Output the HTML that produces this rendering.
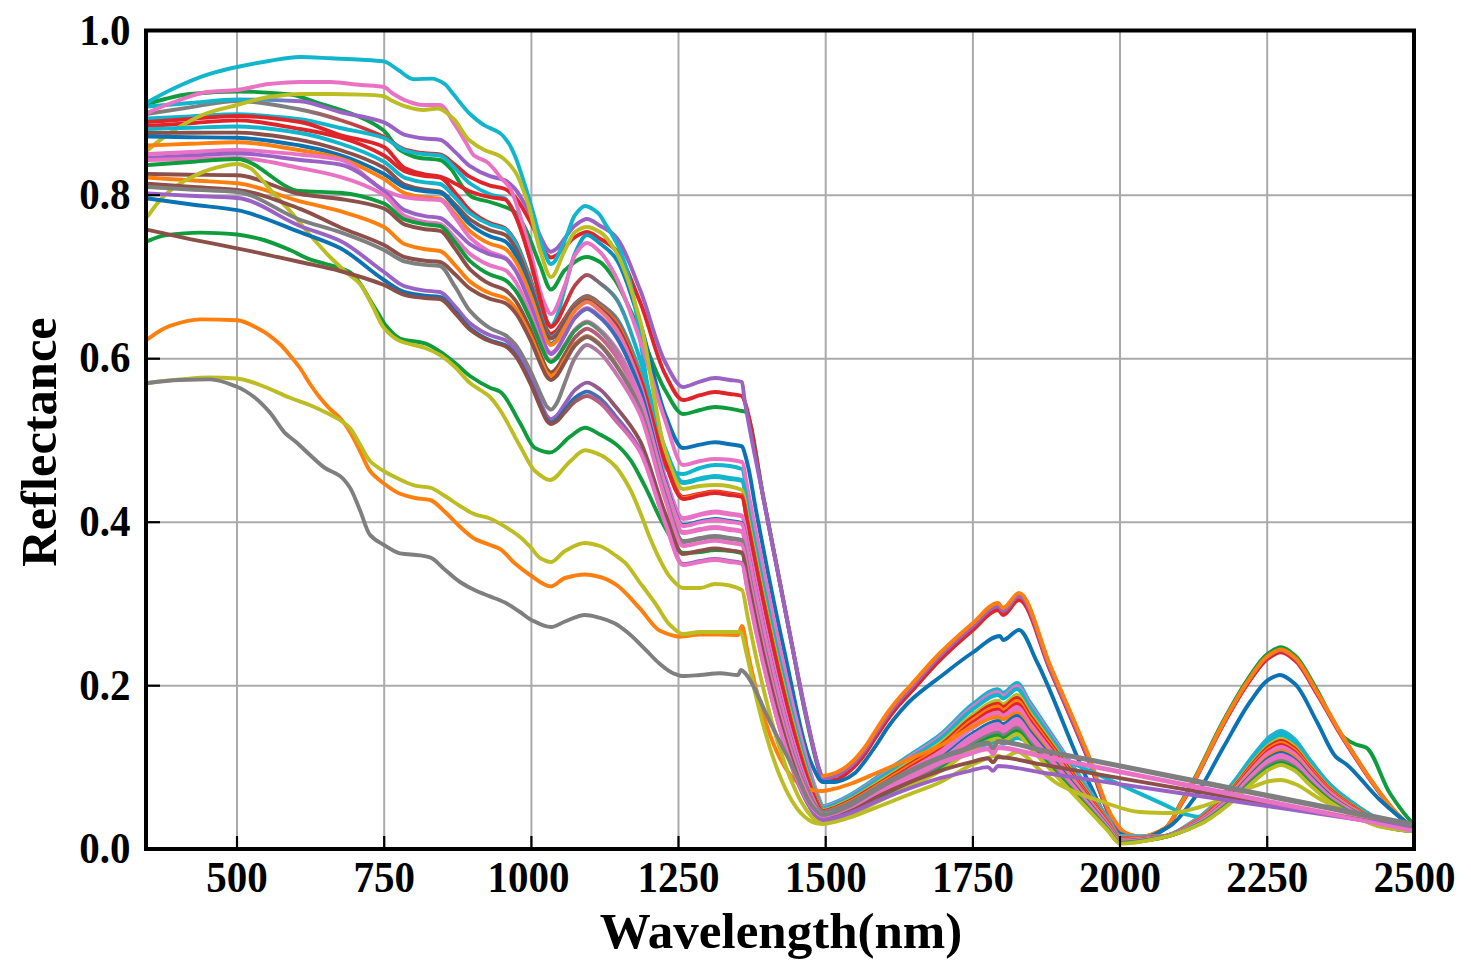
<!DOCTYPE html>
<html><head><meta charset="utf-8"><style>
html,body{margin:0;padding:0;background:#fff;}
body{width:1471px;height:975px;overflow:hidden;font-family:"Liberation Serif",serif;}
svg{display:block;}
</style></head><body>
<svg width="1471" height="975" viewBox="0 0 1471 975">
<defs><linearGradient id="g1" gradientUnits="userSpaceOnUse" x1="300" y1="0" x2="380" y2="0"><stop offset="0" stop-color="#7f7f7f"/><stop offset="1" stop-color="#e0252a"/></linearGradient><linearGradient id="g2" gradientUnits="userSpaceOnUse" x1="240" y1="0" x2="300" y2="0"><stop offset="0" stop-color="#11b5cc"/><stop offset="1" stop-color="#9a62c4"/></linearGradient><linearGradient id="g4" gradientUnits="userSpaceOnUse" x1="560" y1="0" x2="640" y2="0"><stop offset="0" stop-color="#11b5cc"/><stop offset="1" stop-color="#0b72b4"/></linearGradient><linearGradient id="g7" gradientUnits="userSpaceOnUse" x1="560" y1="0" x2="640" y2="0"><stop offset="0" stop-color="#e0252a"/><stop offset="1" stop-color="#11b5cc"/></linearGradient><linearGradient id="g8" gradientUnits="userSpaceOnUse" x1="560" y1="0" x2="640" y2="0"><stop offset="0" stop-color="#e0252a"/><stop offset="1" stop-color="#11b5cc"/></linearGradient><linearGradient id="g10" gradientUnits="userSpaceOnUse" x1="560" y1="0" x2="640" y2="0"><stop offset="0" stop-color="#11b5cc"/><stop offset="1" stop-color="#e0252a"/></linearGradient><linearGradient id="g11" gradientUnits="userSpaceOnUse" x1="560" y1="0" x2="640" y2="0"><stop offset="0" stop-color="#8c5048"/><stop offset="1" stop-color="#ff7f0e"/></linearGradient><linearGradient id="g12" gradientUnits="userSpaceOnUse" x1="560" y1="0" x2="640" y2="0"><stop offset="0" stop-color="#0b72b4"/><stop offset="1" stop-color="#e0252a"/></linearGradient><linearGradient id="g13" gradientUnits="userSpaceOnUse" x1="560" y1="0" x2="640" y2="0"><stop offset="0" stop-color="#ff7f0e"/><stop offset="1" stop-color="#ea72c4"/></linearGradient><linearGradient id="g16" gradientUnits="userSpaceOnUse" x1="560" y1="0" x2="640" y2="0"><stop offset="0" stop-color="#9a62c4"/><stop offset="1" stop-color="#0b72b4"/></linearGradient><linearGradient id="g18" gradientUnits="userSpaceOnUse" x1="560" y1="0" x2="640" y2="0"><stop offset="0" stop-color="#0e9c3c"/><stop offset="1" stop-color="#ea72c4"/></linearGradient><linearGradient id="g19" gradientUnits="userSpaceOnUse" x1="560" y1="0" x2="640" y2="0"><stop offset="0" stop-color="#8c5048"/><stop offset="1" stop-color="#ea72c4"/></linearGradient><linearGradient id="g20" gradientUnits="userSpaceOnUse" x1="560" y1="0" x2="640" y2="0"><stop offset="0" stop-color="#ff7f0e"/><stop offset="1" stop-color="#7f7f7f"/></linearGradient><linearGradient id="g24" gradientUnits="userSpaceOnUse" x1="560" y1="0" x2="640" y2="0"><stop offset="0" stop-color="#8c5048"/><stop offset="1" stop-color="#7f7f7f"/></linearGradient><linearGradient id="g25" gradientUnits="userSpaceOnUse" x1="560" y1="0" x2="640" y2="0"><stop offset="0" stop-color="#7f7f7f"/><stop offset="1" stop-color="#ea72c4"/></linearGradient><linearGradient id="g26" gradientUnits="userSpaceOnUse" x1="560" y1="0" x2="640" y2="0"><stop offset="0" stop-color="#9a62c4"/><stop offset="1" stop-color="#8c5048"/></linearGradient><linearGradient id="g27" gradientUnits="userSpaceOnUse" x1="560" y1="0" x2="640" y2="0"><stop offset="0" stop-color="#0b72b4"/><stop offset="1" stop-color="#9a62c4"/></linearGradient><linearGradient id="g28" gradientUnits="userSpaceOnUse" x1="560" y1="0" x2="640" y2="0"><stop offset="0" stop-color="#8c5048"/><stop offset="1" stop-color="#ea72c4"/></linearGradient></defs>
<rect width="1471" height="975" fill="#fff"/>
<g stroke="#aaaaaa" stroke-width="2"><line x1="237.0" y1="30.5" x2="237.0" y2="849.0"/><line x1="384.2" y1="30.5" x2="384.2" y2="849.0"/><line x1="531.4" y1="30.5" x2="531.4" y2="849.0"/><line x1="678.5" y1="30.5" x2="678.5" y2="849.0"/><line x1="825.7" y1="30.5" x2="825.7" y2="849.0"/><line x1="972.9" y1="30.5" x2="972.9" y2="849.0"/><line x1="1120.0" y1="30.5" x2="1120.0" y2="849.0"/><line x1="1267.2" y1="30.5" x2="1267.2" y2="849.0"/><line x1="146.0" y1="685.7" x2="1414.0" y2="685.7"/><line x1="146.0" y1="522.2" x2="1414.0" y2="522.2"/><line x1="146.0" y1="358.7" x2="1414.0" y2="358.7"/><line x1="146.0" y1="195.2" x2="1414.0" y2="195.2"/></g>
<g fill="none" stroke-width="3.9" stroke-linejoin="round" stroke-linecap="round"><path d="M148.0 104.0C153.7 102.1 159.3 100.4 165.0 99.0C173.3 97.0 181.7 94.7 190.0 94.0C205.7 92.6 221.3 91.5 237.0 91.5C254.3 91.5 271.7 92.6 289.0 94.3C298.3 95.2 307.7 99.7 317.0 102.6C330.8 106.9 344.7 110.6 358.5 116.5C366.8 120.0 375.1 123.9 383.4 130.3C388.9 134.6 394.5 146.6 400.0 150.0C406.7 154.1 413.3 156.9 420.0 158.0C426.7 159.1 433.3 158.7 440.0 160.0C443.7 160.7 447.3 165.1 451.0 169.0C454.7 172.9 458.3 181.3 462.0 186.0C465.3 190.3 468.7 195.4 472.0 197.0C478.0 199.8 484.0 200.2 490.0 202.0C495.0 203.5 500.0 205.0 505.0 207.0C508.3 208.4 511.7 209.5 515.0 212.0C518.3 214.5 521.7 221.6 525.0 228.0C530.0 237.6 535.0 253.3 540.0 265.0C543.7 273.6 547.3 289.5 551.0 289.5C555.7 289.5 560.3 274.0 565.0 270.0C572.3 263.7 579.7 257.0 587.0 257.0C591.3 257.0 595.7 259.5 600.0 262.0C605.0 264.9 610.0 272.6 615.0 280.0C623.3 292.4 631.7 313.7 640.0 332.0C648.3 350.3 656.7 376.1 665.0 390.0C671.0 400.0 677.0 414.0 683.0 414.0C688.7 414.0 694.3 411.2 700.0 410.0C705.0 408.9 710.0 407.0 715.0 407.0C724.0 407.0 733.0 409.3 742.0 411.0C743.2 411.2 744.3 411.4 745.5 411.8C751.6 414.0 757.7 469.7 763.8 500.0C772.9 545.1 781.9 593.4 791.0 640.0C795.7 664.0 800.3 690.5 805.0 712.0C809.9 734.5 814.8 758.8 819.7 773.0C820.8 776.2 821.9 781.0 823.0 781.0C827.0 781.0 831.0 777.8 835.0 776.0C837.7 774.8 840.3 773.6 843.0 772.0C846.7 769.8 850.3 766.5 854.0 763.0C857.7 759.5 861.3 754.9 865.0 750.0C868.7 745.1 872.3 738.6 876.0 733.0C880.0 726.9 884.0 720.5 888.0 715.0C891.7 710.0 895.3 705.3 899.0 701.0C902.7 696.7 906.3 693.0 910.0 689.0C919.7 678.4 929.3 666.7 939.0 657.0C950.3 645.7 961.7 635.6 973.0 626.0C981.3 618.9 989.7 606.0 998.0 606.0C999.7 606.0 1001.3 611.0 1003.0 611.0C1008.3 611.0 1013.7 596.0 1019.0 596.0C1029.3 596.0 1039.7 644.7 1050.0 669.0C1062.7 698.7 1075.3 727.0 1088.0 758.0C1096.0 777.6 1104.0 807.4 1112.0 819.0C1116.3 825.3 1120.7 831.1 1125.0 833.0C1130.0 835.2 1135.0 837.0 1140.0 837.0C1148.3 837.0 1156.7 833.4 1165.0 828.5C1170.7 825.2 1176.3 810.5 1182.0 800.8C1186.3 793.4 1190.7 785.7 1195.0 777.5C1204.3 760.0 1213.7 738.6 1223.0 721.5C1231.3 706.2 1239.7 691.0 1248.0 678.8C1254.3 669.6 1260.7 658.9 1267.0 654.4C1271.7 651.1 1276.3 647.3 1281.0 647.3C1285.7 647.3 1290.3 651.7 1295.0 655.5C1302.3 661.6 1309.7 677.8 1317.0 689.9C1326.0 704.8 1335.0 730.1 1344.0 737.5C1348.0 740.8 1352.0 742.9 1356.0 744.5C1359.3 745.8 1362.7 745.9 1366.0 747.5C1374.0 751.3 1382.0 781.2 1390.0 793.5C1398.0 805.8 1406.0 816.7 1414.0 824.5" stroke="#0e9c3c"/><path d="M148.0 113.8C162.0 111.6 176.0 109.4 190.0 107.4C205.7 105.1 221.3 101.0 237.0 101.0C258.0 101.0 279.0 105.7 300.0 109.5C313.3 111.9 326.7 115.8 340.0 120.0C354.7 124.6 369.3 129.9 384.0 137.0C391.0 140.4 398.0 147.6 405.0 149.6C411.7 151.5 418.3 152.5 425.0 153.3C430.0 153.8 435.0 153.8 440.0 154.5C445.0 155.2 450.0 161.1 455.0 164.8C460.0 168.6 465.0 174.1 470.0 176.9C476.7 180.7 483.3 183.6 490.0 185.6C495.0 187.0 500.0 187.1 505.0 189.0C508.3 190.2 511.7 193.7 515.0 197.2C520.0 202.5 525.0 212.2 530.0 221.2C534.3 229.0 538.7 239.9 543.0 247.9C544.3 250.4 545.7 253.5 547.0 254.8C548.3 256.1 549.7 257.5 551.0 257.5C552.7 257.5 554.3 256.4 556.0 255.5C559.0 253.8 562.0 249.7 565.0 246.8C568.3 243.6 571.7 239.1 575.0 237.1C579.0 234.7 583.0 232.0 587.0 232.0C591.3 232.0 595.7 236.2 600.0 238.7C605.0 241.7 610.0 244.1 615.0 249.2C623.3 257.5 631.7 281.5 640.0 301.8C648.3 322.0 656.7 358.1 665.0 373.9C671.0 385.3 677.0 400.0 683.0 400.0C688.7 400.0 694.3 396.6 700.0 395.2C705.0 394.0 710.0 392.0 715.0 392.0C720.0 392.0 725.0 393.3 730.0 394.0C734.0 394.6 738.0 394.5 742.0 396.0C742.2 396.1 742.4 396.4 742.7 396.8C749.7 408.4 756.8 464.7 763.8 500.0C772.9 545.4 781.9 594.1 791.0 640.0C795.7 663.6 800.3 688.8 805.0 710.0C809.9 732.2 814.8 756.8 819.7 771.0C820.8 774.2 821.9 778.8 823.0 779.0C827.0 779.8 831.0 780.0 835.0 780.0C837.7 780.0 840.3 777.6 843.0 776.0C846.7 773.8 850.3 770.5 854.0 767.0C857.7 763.5 861.3 758.9 865.0 754.0C868.7 749.1 872.3 742.6 876.0 737.0C880.0 730.9 884.0 724.5 888.0 719.0C891.7 714.0 895.3 709.3 899.0 705.0C902.7 700.7 906.3 697.0 910.0 693.0C919.7 682.4 929.3 670.7 939.0 661.0C950.3 649.7 961.7 639.6 973.0 630.0C981.3 622.9 989.7 610.0 998.0 610.0C999.7 610.0 1001.3 615.0 1003.0 615.0C1008.3 615.0 1013.7 600.0 1019.0 600.0C1029.3 600.0 1039.7 646.3 1050.0 670.0C1062.7 699.1 1075.3 728.0 1088.0 759.0C1096.0 778.6 1104.0 807.2 1112.0 820.0C1116.3 826.9 1120.7 834.1 1125.0 836.0C1130.0 838.2 1135.0 840.0 1140.0 840.0C1148.3 840.0 1156.7 834.7 1165.0 828.7C1170.7 824.7 1176.3 812.3 1182.0 803.0C1186.3 796.0 1190.7 788.1 1195.0 780.2C1204.3 762.9 1213.7 742.0 1223.0 725.2C1231.3 710.2 1239.7 695.3 1248.0 683.4C1254.3 674.3 1260.7 663.8 1267.0 659.3C1271.7 656.1 1276.3 652.4 1281.0 652.4C1285.7 652.4 1290.3 656.7 1295.0 660.5C1302.3 666.4 1309.7 682.4 1317.0 694.2C1326.0 708.7 1335.0 726.2 1344.0 740.2C1361.0 766.7 1378.0 793.3 1395.0 812.0C1401.3 819.0 1407.7 824.8 1414.0 830.1" stroke="url(#g1)"/><path d="M148.0 106.5C162.0 105.3 176.0 104.1 190.0 103.0C205.7 101.8 221.3 99.5 237.0 99.5C258.0 99.5 279.0 100.1 300.0 101.2C313.3 101.9 326.7 108.7 340.0 112.0C354.7 115.7 369.3 117.1 384.0 122.3C391.0 124.8 398.0 132.9 405.0 134.8C411.7 136.7 418.3 137.7 425.0 138.5C430.0 139.0 435.0 139.0 440.0 139.7C445.0 140.4 450.0 147.5 455.0 151.9C460.0 156.3 465.0 162.7 470.0 166.1C476.7 170.6 483.3 173.9 490.0 176.2C495.0 178.0 500.0 178.2 505.0 180.3C508.3 181.7 511.7 185.2 515.0 188.9C520.0 194.4 525.0 204.5 530.0 213.9C534.3 222.0 538.7 233.4 543.0 241.7C544.3 244.3 545.7 247.5 547.0 248.8C548.3 250.2 549.7 251.7 551.0 251.7C552.7 251.7 554.3 250.3 556.0 249.1C559.0 247.0 562.0 241.7 565.0 238.0C568.3 233.8 571.7 228.1 575.0 225.5C579.0 222.5 583.0 219.0 587.0 219.0C591.3 219.0 595.7 223.2 600.0 225.7C605.0 228.6 610.0 230.9 615.0 235.8C623.3 244.0 631.7 269.0 640.0 289.6C648.3 310.1 656.7 346.4 665.0 361.8C671.0 372.9 677.0 387.0 683.0 387.0C688.7 387.0 694.3 383.1 700.0 381.6C705.0 380.2 710.0 378.0 715.0 378.0C720.0 378.0 725.0 379.3 730.0 380.0C734.0 380.6 738.0 380.4 742.0 382.0C742.9 382.4 743.7 394.7 744.6 400.0C751.0 439.5 757.4 466.9 763.8 500.0C772.9 547.0 781.9 594.1 791.0 640.0C795.7 663.6 800.3 688.8 805.0 710.0C809.9 732.2 814.8 756.8 819.7 771.0C820.8 774.2 821.9 779.0 823.0 779.0C827.0 779.0 831.0 777.4 835.0 776.0C837.7 775.1 840.3 773.6 843.0 772.0C846.7 769.8 850.3 766.5 854.0 763.0C857.7 759.5 861.3 754.9 865.0 750.0C868.7 745.1 872.3 738.6 876.0 733.0C880.0 726.9 884.0 720.5 888.0 715.0C891.7 710.0 895.3 705.3 899.0 701.0C902.7 696.7 906.3 693.0 910.0 689.0C919.7 678.4 929.3 666.7 939.0 657.0C950.3 645.7 961.7 635.6 973.0 626.0C981.3 618.9 989.7 606.0 998.0 606.0C999.7 606.0 1001.3 611.0 1003.0 611.0C1008.3 611.0 1013.7 596.0 1019.0 596.0C1029.3 596.0 1039.7 643.9 1050.0 668.0C1062.7 697.5 1075.3 726.0 1088.0 757.0C1096.0 776.6 1104.0 805.2 1112.0 818.0C1116.3 824.9 1120.7 832.1 1125.0 834.0C1130.0 836.2 1135.0 838.0 1140.0 838.0C1148.3 838.0 1156.7 833.8 1165.0 828.6C1170.7 825.0 1176.3 811.9 1182.0 802.6C1186.3 795.4 1190.7 787.5 1195.0 779.4C1204.3 762.0 1213.7 740.8 1223.0 723.7C1231.3 708.5 1239.7 693.4 1248.0 681.4C1254.3 672.2 1260.7 661.5 1267.0 657.0C1271.7 653.7 1276.3 650.0 1281.0 650.0C1285.7 650.0 1290.3 654.3 1295.0 658.2C1302.3 664.2 1309.7 680.4 1317.0 692.4C1326.0 707.1 1335.0 724.7 1344.0 738.9C1361.0 765.7 1378.0 792.7 1395.0 811.7C1401.3 818.7 1407.7 824.7 1414.0 829.9" stroke="url(#g2)"/><path d="M823.0 776.0C827.0 775.6 831.0 774.4 835.0 773.0C837.7 772.1 840.3 770.6 843.0 769.0C846.7 766.8 850.3 763.5 854.0 760.0C857.7 756.5 861.3 751.9 865.0 747.0C868.7 742.1 872.3 735.6 876.0 730.0C880.0 723.9 884.0 717.5 888.0 712.0C891.7 707.0 895.3 702.3 899.0 698.0C902.7 693.7 906.3 690.0 910.0 686.0C919.7 675.4 929.3 663.7 939.0 654.0C950.3 642.7 961.7 632.6 973.0 623.0C981.3 615.9 989.7 603.0 998.0 603.0C999.7 603.0 1001.3 608.0 1003.0 608.0C1008.3 608.0 1013.7 593.0 1019.0 593.0C1029.3 593.0 1039.7 640.9 1050.0 665.0C1062.7 694.5 1075.3 722.6 1088.0 754.0C1096.0 773.8 1104.0 803.6 1112.0 816.5C1116.3 823.5 1120.7 830.6 1125.0 832.5C1130.0 834.7 1135.0 836.5 1140.0 836.5C1148.3 836.5 1156.7 832.9 1165.0 828.1C1170.7 824.8 1176.3 811.4 1182.0 802.1C1186.3 794.9 1190.7 787.0 1195.0 778.9C1204.3 761.5 1213.7 740.3 1223.0 723.2C1231.3 708.0 1239.7 692.9 1248.0 680.9C1254.3 671.7 1260.7 661.0 1267.0 656.5C1271.7 653.2 1276.3 649.5 1281.0 649.5C1285.7 649.5 1290.3 653.8 1295.0 657.7C1302.3 663.7 1309.7 679.9 1317.0 691.9C1326.0 706.6 1335.0 724.2 1344.0 738.4C1361.0 765.2 1378.0 792.2 1395.0 811.2C1401.3 818.2 1407.7 824.2 1414.0 829.4" stroke="#ff7f0e"/><path d="M148.0 118.5C162.0 117.8 176.0 117.1 190.0 116.4C205.7 115.7 221.3 114.3 237.0 114.3C258.0 114.3 279.0 116.7 300.0 119.2C313.3 120.8 326.7 125.0 340.0 128.0C354.7 131.3 369.3 132.9 384.0 138.0C391.0 140.4 398.0 148.6 405.0 150.6C411.7 152.5 418.3 153.5 425.0 154.3C430.0 154.8 435.0 154.8 440.0 155.5C445.0 156.2 450.0 163.8 455.0 168.4C460.0 173.1 465.0 180.0 470.0 183.5C476.7 188.3 483.3 191.8 490.0 194.3C495.0 196.1 500.0 196.1 505.0 198.6C508.3 200.3 511.7 207.3 515.0 213.9C520.0 223.8 525.0 241.7 530.0 258.5C534.3 273.0 538.7 293.3 543.0 308.2C544.3 312.7 545.7 318.5 547.0 320.9C548.3 323.3 549.7 326.0 551.0 326.0C552.7 326.0 554.3 322.0 556.0 318.7C559.0 312.8 562.0 298.1 565.0 287.8C568.3 276.3 571.7 260.3 575.0 253.2C579.0 244.7 583.0 235.0 587.0 235.0C591.3 235.0 595.7 240.2 600.0 243.5C605.0 247.3 610.0 250.7 615.0 257.2C623.3 268.0 631.7 297.1 640.0 322.4C648.3 347.8 656.7 393.3 665.0 413.8C671.0 428.6 677.0 448.0 683.0 448.0C688.7 448.0 694.3 445.6 700.0 444.6C705.0 443.7 710.0 442.3 715.0 442.3C720.0 442.3 725.0 443.6 730.0 444.3C734.0 444.9 738.0 444.8 742.0 446.3C743.0 446.7 744.0 451.1 745.0 454.3C746.2 458.0 747.3 463.0 748.5 468.3C751.0 479.7 753.5 497.0 756.0 510.3C765.0 558.3 774.0 604.2 783.0 645.0C792.7 688.8 802.3 744.6 812.0 765.0C815.7 772.7 819.3 782.0 823.0 782.0C827.0 782.0 831.0 782.0 835.0 782.0C837.7 782.0 840.3 780.9 843.0 780.0C847.0 778.6 851.0 776.2 855.0 773.0C858.3 770.4 861.7 765.3 865.0 761.0C869.0 755.8 873.0 749.9 877.0 744.0C880.7 738.6 884.3 732.1 888.0 727.0C891.7 721.9 895.3 717.3 899.0 713.0C902.7 708.7 906.3 704.5 910.0 701.0C920.0 691.5 930.0 684.7 940.0 677.0C950.7 668.7 961.3 660.1 972.0 653.0C981.3 646.8 990.7 636.0 1000.0 636.0C1001.0 636.0 1002.0 640.0 1003.0 640.0C1008.3 640.0 1013.7 630.0 1019.0 630.0C1025.0 630.0 1031.0 650.2 1037.0 662.0C1054.7 696.8 1072.3 750.7 1090.0 785.0C1099.3 803.1 1108.7 829.4 1118.0 833.0C1125.3 835.9 1132.7 838.0 1140.0 838.0C1150.0 838.0 1160.0 832.0 1170.0 826.0C1178.3 821.0 1186.7 808.6 1195.0 797.0C1204.3 784.0 1213.7 764.1 1223.0 748.0C1232.0 732.5 1241.0 714.7 1250.0 702.0C1256.0 693.6 1262.0 683.6 1268.0 680.0C1272.0 677.6 1276.0 675.0 1280.0 675.0C1285.0 675.0 1290.0 679.7 1295.0 684.0C1302.3 690.3 1309.7 708.9 1317.0 722.0C1323.3 733.3 1329.7 750.9 1336.0 757.0C1339.3 760.2 1342.7 761.3 1346.0 764.0C1357.3 773.2 1368.7 789.5 1380.0 800.0C1391.3 810.5 1402.7 820.0 1414.0 828.0" stroke="url(#g4)"/><path d="M148.0 102.0C157.6 96.5 167.2 91.4 176.8 87.0C187.0 82.3 197.3 77.8 207.5 74.6C217.3 71.5 227.2 69.1 237.0 67.0C247.7 64.7 258.3 62.6 269.0 61.0C279.3 59.4 289.5 57.0 299.8 57.0C310.1 57.0 320.3 57.8 330.6 58.3C340.9 58.8 351.1 59.2 361.4 59.8C368.9 60.2 376.3 60.4 383.8 61.4C388.6 62.1 393.5 67.1 398.3 70.0C403.4 73.1 408.6 79.2 413.7 79.2C419.9 79.2 426.0 78.6 432.2 78.6C436.3 78.6 440.4 81.2 444.5 83.8C447.6 85.8 450.6 91.0 453.7 94.6C458.8 100.7 463.9 108.1 469.0 113.0C474.2 118.0 479.3 122.2 484.5 125.4C489.6 128.5 494.7 129.3 499.8 133.0C502.9 135.2 505.9 139.1 509.0 143.8C511.0 146.8 513.0 151.3 515.0 156.0C518.2 163.5 521.3 173.9 524.5 183.8C527.6 193.4 530.6 203.9 533.7 214.6C536.8 225.4 539.9 240.7 543.0 248.5C545.7 255.2 548.3 264.0 551.0 264.0C555.7 264.0 560.3 249.6 565.0 240.0C568.3 233.1 571.7 219.4 575.0 215.0C578.3 210.6 581.7 206.0 585.0 206.0C589.3 206.0 593.7 209.4 598.0 213.0C600.7 215.2 603.3 220.7 606.0 225.0C610.7 232.5 615.3 239.1 620.0 250.0C624.0 259.4 628.0 272.8 632.0 290.0C636.3 308.7 640.7 344.1 645.0 370.0C649.0 393.9 653.0 425.2 657.0 440.0C660.7 453.6 664.3 468.1 668.0 470.0C673.0 472.5 678.0 474.0 683.0 474.0C688.7 474.0 694.3 469.4 700.0 468.0C705.0 466.7 710.0 465.0 715.0 465.0C724.0 465.0 733.0 465.7 742.0 469.0C743.8 469.7 745.7 486.3 747.5 495.4C749.2 503.8 750.9 512.8 752.6 521.4C754.2 530.0 755.9 538.5 757.6 546.9C759.3 555.3 760.9 563.6 762.6 571.9C764.3 580.1 766.0 588.3 767.7 596.3C769.3 604.3 771.0 612.3 772.7 620.1C774.4 628.0 776.0 635.7 777.7 643.3C779.4 651.0 781.1 658.5 782.8 665.9C784.4 673.3 786.1 680.5 787.8 687.7C789.5 694.8 791.1 701.8 792.8 708.6C794.5 715.5 796.2 722.2 797.8 728.7C799.5 735.2 801.2 741.6 802.9 747.7C804.6 753.9 806.2 759.9 807.9 765.5C809.6 771.2 811.3 776.7 812.9 781.8C814.6 786.8 816.3 792.0 818.0 795.9C819.6 799.8 821.3 806.0 823.0 806.0C827.0 806.0 831.0 803.8 835.0 802.3C840.0 800.4 845.0 797.7 850.0 794.9C860.0 789.4 870.0 781.9 880.0 775.2C889.7 768.8 899.3 762.1 909.0 755.6C919.3 748.6 929.7 742.7 940.0 734.7C951.0 726.1 962.0 711.8 973.0 703.9C981.3 697.9 989.7 689.1 998.0 689.1C999.7 689.1 1001.3 692.8 1003.0 692.8C1007.7 692.8 1012.3 683.0 1017.0 683.0C1021.1 683.0 1025.2 695.2 1029.4 701.4C1042.4 720.7 1055.5 740.1 1068.5 759.5C1081.5 778.9 1094.6 798.3 1107.6 817.6C1111.8 823.8 1115.9 835.9 1120.0 836.0C1133.3 836.4 1146.7 836.5 1160.0 836.5C1173.3 836.5 1186.7 825.5 1200.0 816.5C1210.0 809.7 1220.0 798.0 1230.0 786.5C1238.3 776.9 1246.7 763.2 1255.0 753.2C1260.0 747.2 1265.0 740.0 1270.0 736.5C1273.7 734.1 1277.3 731.0 1281.0 731.0C1285.0 731.0 1289.0 734.6 1293.0 737.7C1298.7 742.0 1304.3 752.7 1310.0 759.9C1316.7 768.3 1323.3 777.7 1330.0 784.3C1336.7 790.9 1343.3 796.1 1350.0 800.9C1360.0 808.2 1370.0 815.4 1380.0 819.8C1391.3 824.7 1402.7 829.1 1414.0 831.0" stroke="#11b5cc"/><path d="M148.0 112.6C157.7 108.3 167.3 104.3 177.0 101.0C187.0 97.6 197.0 93.1 207.0 92.0C217.0 90.9 227.0 91.0 237.0 90.0C247.7 89.0 258.3 85.0 269.0 84.0C279.3 83.0 289.7 82.0 300.0 82.0C310.0 82.0 320.0 82.0 330.0 82.0C340.3 82.0 350.7 84.1 361.0 85.0C368.7 85.7 376.3 85.6 384.0 87.0C386.7 87.5 389.3 91.3 392.0 93.0C397.0 96.2 402.0 99.3 407.0 101.0C412.3 102.8 417.7 105.0 423.0 105.0C428.7 105.0 434.3 105.0 440.0 105.0C445.0 105.0 450.0 117.7 455.0 125.0C458.3 129.9 461.7 135.6 465.0 141.0C468.0 145.8 471.0 153.1 474.0 155.5C478.3 158.9 482.7 159.0 487.0 162.0C489.3 163.6 491.7 166.4 494.0 169.0C496.3 171.6 498.7 175.2 501.0 178.0C504.0 181.6 507.0 183.3 510.0 188.0C511.7 190.6 513.3 195.5 515.0 200.0C520.0 213.6 525.0 232.1 530.0 250.0C534.3 265.5 538.7 289.9 543.0 300.0C545.7 306.2 548.3 314.0 551.0 314.0C555.7 314.0 560.3 296.6 565.0 285.0C568.3 276.7 571.7 260.1 575.0 255.0C579.0 248.9 583.0 243.0 587.0 243.0C591.3 243.0 595.7 247.9 600.0 252.0C605.0 256.7 610.0 265.6 615.0 275.0C623.3 290.7 631.7 316.1 640.0 340.0C648.3 363.9 656.7 396.8 665.0 420.0C671.0 436.7 677.0 465.0 683.0 465.0C688.7 465.0 694.3 462.0 700.0 461.0C705.0 460.2 710.0 459.0 715.0 459.0C724.0 459.0 733.0 459.5 742.0 462.0C743.8 462.5 745.7 479.3 747.5 488.5C749.2 496.8 750.9 505.9 752.6 514.5C754.2 523.1 755.9 531.7 757.6 540.1C759.3 548.6 760.9 557.0 762.6 565.3C764.3 573.6 766.0 581.8 767.7 589.9C769.3 598.1 771.0 606.1 772.7 614.1C774.4 622.0 776.0 629.9 777.7 637.6C779.4 645.4 781.1 653.1 782.8 660.6C784.4 668.1 786.1 675.6 787.8 682.9C789.5 690.2 791.1 697.4 792.8 704.4C794.5 711.5 796.2 718.4 797.8 725.1C799.5 731.9 801.2 738.5 802.9 744.9C804.6 751.3 806.2 757.5 807.9 763.5C809.6 769.4 811.3 775.3 812.9 780.6C814.6 786.0 816.3 791.5 818.0 795.8C819.6 800.1 821.3 807.0 823.0 807.0C827.0 807.0 831.0 804.8 835.0 803.4C840.0 801.5 845.0 798.8 850.0 796.1C860.0 790.7 870.0 783.3 880.0 776.8C889.7 770.4 899.3 763.8 909.0 757.4C919.3 750.5 929.7 744.8 940.0 736.8C951.0 728.4 962.0 714.3 973.0 706.6C981.3 700.7 989.7 692.0 998.0 692.0C999.7 692.0 1001.3 695.7 1003.0 695.7C1007.7 695.7 1012.3 686.0 1017.0 686.0C1021.1 686.0 1025.2 698.0 1029.4 704.1C1042.4 723.1 1055.5 742.2 1068.5 761.2C1081.5 780.3 1094.6 799.3 1107.6 818.4C1111.8 824.4 1115.9 836.4 1120.0 836.4C1133.3 836.5 1146.7 836.5 1160.0 836.5C1173.3 836.5 1186.7 825.8 1200.0 816.9C1210.0 810.3 1220.0 798.8 1230.0 787.5C1238.3 778.1 1246.7 764.6 1255.0 754.8C1260.0 748.9 1265.0 741.8 1270.0 738.5C1273.7 736.0 1277.3 733.0 1281.0 733.0C1285.0 733.0 1289.0 736.5 1293.0 739.5C1298.7 743.8 1304.3 754.3 1310.0 761.3C1316.7 769.6 1323.3 778.8 1330.0 785.3C1336.7 791.8 1343.3 796.9 1350.0 801.7C1360.0 808.8 1370.0 816.0 1380.0 820.2C1391.3 825.0 1402.7 829.2 1414.0 831.0" stroke="#ea72c4"/><path d="M148.0 122.0C162.0 120.9 176.0 119.9 190.0 119.0C205.7 117.9 221.3 116.0 237.0 116.0C258.0 116.0 279.0 118.8 300.0 122.0C313.3 124.0 326.7 131.0 340.0 135.0C354.7 139.4 369.3 140.2 384.0 147.0C391.0 150.2 398.0 165.0 405.0 168.3C411.7 171.5 418.3 173.3 425.0 174.5C430.0 175.5 435.0 175.5 440.0 176.6C445.0 177.7 450.0 181.0 455.0 183.5C460.0 185.9 465.0 189.6 470.0 191.5C476.7 194.0 483.3 195.9 490.0 197.2C495.0 198.2 500.0 198.0 505.0 199.5C508.3 200.5 511.7 208.2 515.0 214.8C520.0 224.7 525.0 242.6 530.0 259.4C534.3 274.0 538.7 294.3 543.0 309.1C544.3 313.7 545.7 319.5 547.0 321.9C548.3 324.3 549.7 327.0 551.0 327.0C552.7 327.0 554.3 324.7 556.0 322.8C559.0 319.5 562.0 311.1 565.0 305.2C568.3 298.6 571.7 289.5 575.0 285.4C579.0 280.5 583.0 275.0 587.0 275.0C591.3 275.0 595.7 280.0 600.0 283.3C605.0 287.0 610.0 290.6 615.0 297.0C623.3 307.7 631.7 334.7 640.0 359.0C648.3 383.3 656.7 427.3 665.0 447.7C671.0 462.3 677.0 482.0 683.0 482.0C688.7 482.0 694.3 479.4 700.0 478.4C705.0 477.5 710.0 476.0 715.0 476.0C720.0 476.0 725.0 477.3 730.0 478.0C734.0 478.6 738.0 478.5 742.0 480.0C743.8 480.7 745.7 497.3 747.5 506.4C749.2 514.7 750.9 523.8 752.6 532.3C754.2 540.8 755.9 549.3 757.6 557.6C759.3 566.0 760.9 574.2 762.6 582.4C764.3 590.5 766.0 598.6 767.7 606.5C769.3 614.5 771.0 622.3 772.7 630.0C774.4 637.7 776.0 645.3 777.7 652.8C779.4 660.3 781.1 667.7 782.8 674.9C784.4 682.1 786.1 689.2 787.8 696.1C789.5 703.0 791.1 709.8 792.8 716.4C794.5 723.0 796.2 729.5 797.8 735.8C799.5 742.0 801.2 748.1 802.9 754.0C804.6 759.8 806.2 765.5 807.9 770.8C809.6 776.2 811.3 781.4 812.9 786.1C814.6 790.7 816.3 795.6 818.0 799.1C819.6 802.6 821.3 808.0 823.0 808.0C827.0 808.0 831.0 805.9 835.0 804.4C840.0 802.6 845.0 800.0 850.0 797.3C860.0 791.9 870.0 784.7 880.0 778.2C889.7 772.0 899.3 765.5 909.0 759.2C919.3 752.4 929.7 746.8 940.0 739.0C951.0 730.7 962.0 716.8 973.0 709.2C981.3 703.5 989.7 695.0 998.0 695.0C999.7 695.0 1001.3 698.5 1003.0 698.5C1007.7 698.5 1012.3 689.0 1017.0 689.0C1021.1 689.0 1025.2 700.8 1029.4 706.7C1042.4 725.5 1055.5 744.2 1068.5 762.9C1081.5 781.7 1094.6 800.4 1107.6 819.1C1111.8 825.1 1115.9 836.9 1120.0 836.9C1133.3 836.9 1146.7 836.8 1160.0 836.6C1173.3 836.5 1186.7 826.1 1200.0 817.4C1210.0 810.9 1220.0 799.6 1230.0 788.5C1238.3 779.3 1246.7 766.1 1255.0 756.4C1260.0 750.6 1265.0 743.6 1270.0 740.4C1273.7 737.9 1277.3 735.0 1281.0 735.0C1285.0 735.0 1289.0 738.5 1293.0 741.4C1298.7 745.6 1304.3 755.9 1310.0 762.8C1316.7 770.9 1323.3 780.0 1330.0 786.4C1336.7 792.7 1343.3 797.8 1350.0 802.4C1360.0 809.4 1370.0 816.5 1380.0 820.6C1391.3 825.2 1402.7 829.3 1414.0 831.0" stroke="url(#g7)"/><path d="M148.0 126.0C162.0 125.0 176.0 124.1 190.0 123.2C205.7 122.2 221.3 120.4 237.0 120.4C258.0 120.4 279.0 125.5 300.0 129.0C313.3 131.2 326.7 133.7 340.0 137.4C354.7 141.5 369.3 147.4 384.0 155.5C391.0 159.4 398.0 168.9 405.0 171.3C411.7 173.7 418.3 175.0 425.0 176.0C430.0 176.7 435.0 176.6 440.0 177.5C445.0 178.4 450.0 187.2 455.0 192.7C460.0 198.1 465.0 206.2 470.0 210.4C476.7 216.0 483.3 220.1 490.0 223.0C495.0 225.2 500.0 225.3 505.0 228.1C508.3 229.9 511.7 235.3 515.0 240.8C520.0 249.0 525.0 263.9 530.0 277.9C534.3 290.0 538.7 306.9 543.0 319.2C544.3 323.0 545.7 327.7 547.0 329.8C548.3 331.8 549.7 334.0 551.0 334.0C552.7 334.0 554.3 332.3 556.0 331.0C559.0 328.5 562.0 322.4 565.0 318.0C568.3 313.2 571.7 306.6 575.0 303.6C579.0 300.0 583.0 296.0 587.0 296.0C591.3 296.0 595.7 300.5 600.0 303.5C605.0 306.9 610.0 310.4 615.0 316.3C623.3 326.1 631.7 349.3 640.0 371.0C648.3 392.7 656.7 432.3 665.0 451.0C671.0 464.5 677.0 483.0 683.0 483.0C688.7 483.0 694.3 480.4 700.0 479.4C705.0 478.5 710.0 477.0 715.0 477.0C720.0 477.0 725.0 478.3 730.0 479.0C734.0 479.6 738.0 479.5 742.0 481.0C743.8 481.7 745.7 498.3 747.5 507.4C749.2 515.7 750.9 524.8 752.6 533.3C754.2 541.8 755.9 550.3 757.6 558.6C759.3 567.0 760.9 575.2 762.6 583.4C764.3 591.5 766.0 599.6 767.7 607.5C769.3 615.5 771.0 623.3 772.7 631.0C774.4 638.7 776.0 646.3 777.7 653.8C779.4 661.3 781.1 668.7 782.8 675.9C784.4 683.1 786.1 690.2 787.8 697.1C789.5 704.0 791.1 710.8 792.8 717.4C794.5 724.0 796.2 730.5 797.8 736.8C799.5 743.0 801.2 749.1 802.9 755.0C804.6 760.8 806.2 766.5 807.9 771.8C809.6 777.2 811.3 782.4 812.9 787.1C814.6 791.7 816.3 796.6 818.0 800.1C819.6 803.6 821.3 809.0 823.0 809.0C827.0 809.0 831.0 807.7 835.0 806.9C840.0 805.8 845.0 804.2 850.0 802.6C860.0 799.4 870.0 795.1 880.0 791.2C889.7 787.5 899.3 783.7 909.0 779.9C919.3 775.9 929.7 772.5 940.0 767.8C951.0 762.9 962.0 754.6 973.0 750.1C981.3 746.6 989.7 741.5 998.0 741.5C999.7 741.5 1001.3 743.7 1003.0 743.7C1007.7 743.7 1012.3 738.0 1017.0 738.0C1023.7 738.0 1030.4 744.1 1037.2 747.1C1058.4 756.7 1079.7 766.4 1101.0 776.0C1122.3 785.6 1143.6 795.3 1164.8 804.9C1171.6 807.9 1178.3 812.2 1185.0 814.0C1190.0 815.3 1195.0 816.9 1200.0 816.9C1210.0 816.9 1220.0 798.8 1230.0 787.5C1238.3 778.1 1246.7 764.6 1255.0 754.8C1260.0 748.9 1265.0 741.8 1270.0 738.5C1273.7 736.0 1277.3 733.0 1281.0 733.0C1285.0 733.0 1289.0 736.5 1293.0 739.5C1298.7 743.8 1304.3 754.3 1310.0 761.3C1316.7 769.6 1323.3 778.8 1330.0 785.3C1336.7 791.8 1343.3 796.9 1350.0 801.7C1360.0 808.8 1370.0 816.0 1380.0 820.2C1391.3 825.0 1402.7 829.2 1414.0 831.0" stroke="url(#g8)"/><path d="M148.0 150.0C157.6 141.7 167.2 134.3 176.8 128.5C187.0 122.3 197.3 116.6 207.5 113.0C217.3 109.5 227.2 107.6 237.0 105.0C247.7 102.2 258.3 98.5 269.0 97.0C279.3 95.6 289.5 94.0 299.8 94.0C310.1 94.0 320.3 94.0 330.6 94.0C340.9 94.0 351.1 94.3 361.4 94.6C368.9 94.8 376.3 95.1 383.8 96.2C386.5 96.6 389.3 99.5 392.0 100.8C397.2 103.3 402.3 105.7 407.5 107.0C412.7 108.3 417.8 110.0 423.0 110.0C428.0 110.0 433.0 108.5 438.0 108.5C443.2 108.5 448.5 114.3 453.7 119.0C458.8 123.6 463.9 135.5 469.0 140.0C474.2 144.5 479.3 147.5 484.5 150.0C489.6 152.5 494.7 153.1 499.8 156.0C504.9 158.9 509.9 164.1 515.0 171.5C519.2 177.6 523.3 189.6 527.5 202.0C531.7 214.4 535.8 237.6 540.0 250.0C543.7 260.9 547.3 277.0 551.0 277.0C555.7 277.0 560.3 258.7 565.0 250.0C568.3 243.8 571.7 234.3 575.0 232.0C579.0 229.2 583.0 227.0 587.0 227.0C591.3 227.0 595.7 229.5 600.0 232.0C605.0 234.9 610.0 241.9 615.0 250.0C623.3 263.5 631.7 289.7 640.0 320.0C648.3 350.3 656.7 425.1 665.0 450.0C671.0 468.0 677.0 489.0 683.0 489.0C688.7 489.0 694.3 486.5 700.0 486.0C705.0 485.5 710.0 485.0 715.0 485.0C724.0 485.0 733.0 486.0 742.0 490.0C743.8 490.8 745.7 507.3 747.5 516.4C749.2 524.7 750.9 533.7 752.6 542.2C754.2 550.7 755.9 559.1 757.6 567.4C759.3 575.7 760.9 583.9 762.6 591.9C764.3 600.0 766.0 608.0 767.7 615.8C769.3 623.7 771.0 631.4 772.7 639.0C774.4 646.6 776.0 654.1 777.7 661.4C779.4 668.7 781.1 676.0 782.8 683.0C784.4 690.1 786.1 697.0 787.8 703.7C789.5 710.5 791.1 717.1 792.8 723.5C794.5 729.9 796.2 736.1 797.8 742.1C799.5 748.2 801.2 754.0 802.9 759.6C804.6 765.2 806.2 770.6 807.9 775.7C809.6 780.7 811.3 785.6 812.9 790.0C814.6 794.4 816.3 798.9 818.0 802.1C819.6 805.3 821.3 810.0 823.0 810.0C827.0 810.0 831.0 808.0 835.0 806.5C840.0 804.8 845.0 802.2 850.0 799.6C860.0 794.5 870.0 787.5 880.0 781.2C889.7 775.2 899.3 769.0 909.0 762.9C919.3 756.3 929.7 750.8 940.0 743.3C951.0 735.3 962.0 721.9 973.0 714.5C981.3 709.0 989.7 700.8 998.0 700.8C999.7 700.8 1001.3 704.2 1003.0 704.2C1007.7 704.2 1012.3 695.0 1017.0 695.0C1021.1 695.0 1025.2 706.4 1029.4 712.1C1042.4 730.2 1055.5 748.3 1068.5 766.4C1081.5 784.5 1094.6 802.6 1107.6 820.6C1111.8 826.4 1115.9 837.8 1120.0 837.8C1133.3 837.8 1146.7 837.4 1160.0 836.9C1173.3 836.3 1186.7 826.7 1200.0 818.3C1210.0 812.0 1220.0 801.1 1230.0 790.5C1238.3 781.6 1246.7 768.9 1255.0 759.6C1260.0 754.0 1265.0 747.3 1270.0 744.1C1273.7 741.8 1277.3 739.0 1281.0 739.0C1285.0 739.0 1289.0 742.4 1293.0 745.2C1298.7 749.2 1304.3 759.1 1310.0 765.8C1316.7 773.6 1323.3 782.3 1330.0 788.4C1336.7 794.6 1343.3 799.4 1350.0 803.9C1360.0 810.6 1370.0 817.6 1380.0 821.4C1391.3 825.7 1402.7 829.6 1414.0 831.0" stroke="#bcbd22"/><path d="M148.0 129.0C162.0 128.6 176.0 128.1 190.0 127.8C205.7 127.3 221.3 126.5 237.0 126.5C258.0 126.5 279.0 129.8 300.0 133.0C313.3 135.0 326.7 139.2 340.0 143.5C354.7 148.2 369.3 153.5 384.0 161.7C391.0 165.6 398.0 175.3 405.0 177.8C411.7 180.1 418.3 181.5 425.0 182.4C430.0 183.1 435.0 183.1 440.0 184.0C445.0 184.9 450.0 192.7 455.0 197.5C460.0 202.3 465.0 209.5 470.0 213.2C476.7 218.2 483.3 221.9 490.0 224.5C495.0 226.4 500.0 226.5 505.0 229.0C508.3 230.7 511.7 236.4 515.0 242.0C520.0 250.4 525.0 265.7 530.0 280.0C534.3 292.4 538.7 309.7 543.0 322.3C544.3 326.2 545.7 331.1 547.0 333.2C548.3 335.2 549.7 337.5 551.0 337.5C552.7 337.5 554.3 335.7 556.0 334.3C559.0 331.6 562.0 325.1 565.0 320.5C568.3 315.4 571.7 308.3 575.0 305.1C579.0 301.3 583.0 297.0 587.0 297.0C591.3 297.0 595.7 301.8 600.0 305.0C605.0 308.7 610.0 312.7 615.0 319.1C623.3 329.8 631.7 353.4 640.0 376.3C648.3 399.1 656.7 441.3 665.0 461.7C671.0 476.5 677.0 497.0 683.0 497.0C688.7 497.0 694.3 494.6 700.0 493.7C705.0 492.9 710.0 491.5 715.0 491.5C720.0 491.5 725.0 492.8 730.0 493.5C734.0 494.1 738.0 494.0 742.0 495.5C743.8 496.2 745.7 512.8 747.5 521.9C749.2 530.2 750.9 539.1 752.6 547.6C754.2 556.1 755.9 564.5 757.6 572.7C759.3 581.0 760.9 589.2 762.6 597.2C764.3 605.2 766.0 613.1 767.7 620.9C769.3 628.7 771.0 636.4 772.7 643.9C774.4 651.4 776.0 658.8 777.7 666.1C779.4 673.3 781.1 680.5 782.8 687.4C784.4 694.4 786.1 701.2 787.8 707.8C789.5 714.5 791.1 721.0 792.8 727.3C794.5 733.5 796.2 739.7 797.8 745.6C799.5 751.4 801.2 757.2 802.9 762.6C804.6 768.0 806.2 773.3 807.9 778.2C809.6 783.1 811.3 787.8 812.9 792.0C814.6 796.2 816.3 800.6 818.0 803.6C819.6 806.6 821.3 811.0 823.0 811.0C827.0 811.0 831.0 809.0 835.0 807.6C840.0 805.9 845.0 803.4 850.0 800.8C860.0 795.7 870.0 788.9 880.0 782.8C889.7 776.8 899.3 770.7 909.0 764.7C919.3 758.2 929.7 752.9 940.0 745.5C951.0 737.6 962.0 724.4 973.0 717.2C981.3 711.7 989.7 703.6 998.0 703.6C999.7 703.6 1001.3 707.0 1003.0 707.0C1007.7 707.0 1012.3 698.0 1017.0 698.0C1021.1 698.0 1025.2 709.2 1029.4 714.8C1042.4 732.6 1055.5 750.3 1068.5 768.1C1081.5 785.9 1094.6 803.6 1107.6 821.4C1111.8 827.0 1115.9 838.2 1120.0 838.2C1133.3 838.2 1146.7 837.7 1160.0 837.0C1173.3 836.2 1186.7 827.0 1200.0 818.8C1210.0 812.6 1220.0 801.9 1230.0 791.5C1238.3 782.8 1246.7 770.3 1255.0 761.2C1260.0 755.7 1265.0 749.1 1270.0 746.0C1273.7 743.8 1277.3 741.0 1281.0 741.0C1285.0 741.0 1289.0 744.3 1293.0 747.1C1298.7 751.0 1304.3 760.7 1310.0 767.3C1316.7 774.9 1323.3 783.5 1330.0 789.5C1336.7 795.5 1343.3 800.2 1350.0 804.6C1360.0 811.2 1370.0 818.1 1380.0 821.8C1391.3 826.0 1402.7 829.8 1414.0 831.0" stroke="url(#g10)"/><path d="M148.0 133.0C162.0 132.9 176.0 132.9 190.0 132.8C205.7 132.7 221.3 132.6 237.0 132.6C258.0 132.6 279.0 136.4 300.0 139.8C313.3 142.0 326.7 145.8 340.0 150.0C354.7 154.6 369.3 159.6 384.0 167.8C391.0 171.7 398.0 182.1 405.0 184.8C411.7 187.3 418.3 188.7 425.0 189.7C430.0 190.5 435.0 190.4 440.0 191.4C445.0 192.4 450.0 199.7 455.0 204.4C460.0 209.1 465.0 216.0 470.0 219.5C476.7 224.3 483.3 227.9 490.0 230.4C495.0 232.2 500.0 232.3 505.0 234.7C508.3 236.3 511.7 241.8 515.0 247.2C520.0 255.2 525.0 269.8 530.0 283.5C534.3 295.3 538.7 311.9 543.0 324.0C544.3 327.7 545.7 332.4 547.0 334.3C548.3 336.3 549.7 338.5 551.0 338.5C552.7 338.5 554.3 336.7 556.0 335.3C559.0 332.6 562.0 326.1 565.0 321.5C568.3 316.4 571.7 309.3 575.0 306.1C579.0 302.3 583.0 298.0 587.0 298.0C591.3 298.0 595.7 302.8 600.0 306.0C605.0 309.7 610.0 314.0 615.0 320.5C623.3 331.4 631.7 353.8 640.0 376.3C648.3 398.8 656.7 440.8 665.0 461.7C671.0 476.7 677.0 498.0 683.0 498.0C688.7 498.0 694.3 495.6 700.0 494.7C705.0 493.9 710.0 492.5 715.0 492.5C720.0 492.5 725.0 493.8 730.0 494.5C734.0 495.1 738.0 495.0 742.0 496.5C743.8 497.2 745.7 513.8 747.5 522.9C749.2 531.2 750.9 540.1 752.6 548.6C754.2 557.1 755.9 565.5 757.6 573.7C759.3 582.0 760.9 590.2 762.6 598.2C764.3 606.2 766.0 614.1 767.7 621.9C769.3 629.7 771.0 637.4 772.7 644.9C774.4 652.4 776.0 659.8 777.7 667.1C779.4 674.3 781.1 681.5 782.8 688.4C784.4 695.4 786.1 702.2 787.8 708.8C789.5 715.5 791.1 722.0 792.8 728.3C794.5 734.5 796.2 740.7 797.8 746.6C799.5 752.4 801.2 758.2 802.9 763.6C804.6 769.0 806.2 774.3 807.9 779.2C809.6 784.1 811.3 788.8 812.9 793.0C814.6 797.2 816.3 801.6 818.0 804.6C819.6 807.6 821.3 812.0 823.0 812.0C827.0 812.0 831.0 810.0 835.0 808.7C840.0 807.0 845.0 804.5 850.0 802.0C860.0 797.0 870.0 790.3 880.0 784.2C889.7 778.4 899.3 772.4 909.0 766.5C919.3 760.2 929.7 754.9 940.0 747.6C951.0 739.9 962.0 727.0 973.0 719.9C981.3 714.5 989.7 706.5 998.0 706.5C999.7 706.5 1001.3 709.9 1003.0 709.9C1007.7 709.9 1012.3 701.0 1017.0 701.0C1021.1 701.0 1025.2 712.0 1029.4 717.5C1042.4 735.0 1055.5 752.4 1068.5 769.8C1081.5 787.3 1094.6 804.7 1107.6 822.1C1111.8 827.7 1115.9 838.7 1120.0 838.7C1133.3 838.7 1146.7 838.0 1160.0 837.0C1173.3 836.1 1186.7 827.3 1200.0 819.2C1210.0 813.2 1220.0 802.7 1230.0 792.5C1238.3 784.0 1246.7 771.7 1255.0 762.8C1260.0 757.4 1265.0 751.0 1270.0 748.0C1273.7 745.7 1277.3 743.0 1281.0 743.0C1285.0 743.0 1289.0 746.2 1293.0 748.9C1298.7 752.8 1304.3 762.4 1310.0 768.7C1316.7 776.3 1323.3 784.6 1330.0 790.5C1336.7 796.4 1343.3 801.1 1350.0 805.4C1360.0 811.8 1370.0 818.6 1380.0 822.2C1391.3 826.2 1402.7 829.9 1414.0 831.0" stroke="url(#g11)"/><path d="M148.0 136.5C162.0 136.7 176.0 136.9 190.0 137.2C205.7 137.4 221.3 137.4 237.0 137.8C258.0 138.3 279.0 142.0 300.0 145.5C313.3 147.7 326.7 150.9 340.0 155.0C354.7 159.5 369.3 166.3 384.0 174.0C391.0 177.7 398.0 185.2 405.0 187.3C411.7 189.3 418.3 190.4 425.0 191.2C430.0 191.8 435.0 191.7 440.0 192.5C445.0 193.3 450.0 201.9 455.0 207.1C460.0 212.4 465.0 220.2 470.0 224.2C476.7 229.6 483.3 233.6 490.0 236.4C495.0 238.5 500.0 238.6 505.0 241.3C508.3 243.1 511.7 248.3 515.0 253.6C520.0 261.6 525.0 276.0 530.0 289.6C534.3 301.3 538.7 317.7 543.0 329.6C544.3 333.3 545.7 337.9 547.0 339.9C548.3 341.8 549.7 344.0 551.0 344.0C552.7 344.0 554.3 342.1 556.0 340.6C559.0 337.8 562.0 330.8 565.0 325.9C568.3 320.5 571.7 313.0 575.0 309.6C579.0 305.6 583.0 301.0 587.0 301.0C591.3 301.0 595.7 305.7 600.0 308.9C605.0 312.7 610.0 317.2 615.0 323.7C623.3 334.7 631.7 355.7 640.0 377.6C648.3 399.5 656.7 441.0 665.0 462.0C671.0 477.1 677.0 499.0 683.0 499.0C688.7 499.0 694.3 496.4 700.0 495.4C705.0 494.5 710.0 493.0 715.0 493.0C720.0 493.0 725.0 494.3 730.0 495.0C734.0 495.6 738.0 495.5 742.0 497.0C743.8 497.7 745.7 514.3 747.5 523.4C749.2 531.7 750.9 540.7 752.6 549.1C754.2 557.6 755.9 566.0 757.6 574.3C759.3 582.5 760.9 590.7 762.6 598.7C764.3 606.7 766.0 614.7 767.7 622.5C769.3 630.3 771.0 637.9 772.7 645.5C774.4 653.0 776.0 660.4 777.7 667.7C779.4 674.9 781.1 682.1 782.8 689.0C784.4 696.0 786.1 702.9 787.8 709.5C789.5 716.1 791.1 722.7 792.8 728.9C794.5 735.2 796.2 741.4 797.8 747.3C799.5 753.2 801.2 758.9 802.9 764.4C804.6 769.8 806.2 775.1 807.9 780.0C809.6 784.9 811.3 789.7 812.9 793.9C814.6 798.1 816.3 802.5 818.0 805.5C819.6 808.6 821.3 813.0 823.0 813.0C827.0 813.0 831.0 811.1 835.0 809.7C840.0 808.1 845.0 805.6 850.0 803.2C860.0 798.3 870.0 791.7 880.0 785.8C889.7 780.0 899.3 774.1 909.0 768.3C919.3 762.1 929.7 756.9 940.0 749.8C951.0 742.2 962.0 729.5 973.0 722.5C981.3 717.2 989.7 709.5 998.0 709.5C999.7 709.5 1001.3 712.7 1003.0 712.7C1007.7 712.7 1012.3 704.0 1017.0 704.0C1021.1 704.0 1025.2 714.8 1029.4 720.2C1042.4 737.3 1055.5 754.4 1068.5 771.6C1081.5 788.7 1094.6 805.8 1107.6 822.9C1111.8 828.3 1115.9 839.1 1120.0 839.1C1133.3 839.1 1146.7 838.3 1160.0 837.1C1173.3 836.0 1186.7 827.6 1200.0 819.7C1210.0 813.8 1220.0 803.5 1230.0 793.5C1238.3 785.1 1246.7 773.2 1255.0 764.4C1260.0 759.1 1265.0 752.8 1270.0 749.9C1273.7 747.7 1277.3 745.0 1281.0 745.0C1285.0 745.0 1289.0 748.2 1293.0 750.8C1298.7 754.6 1304.3 764.0 1310.0 770.2C1316.7 777.6 1323.3 785.8 1330.0 791.6C1336.7 797.3 1343.3 801.9 1350.0 806.1C1360.0 812.4 1370.0 819.2 1380.0 822.6C1391.3 826.5 1402.7 830.0 1414.0 831.0" stroke="url(#g12)"/><path d="M148.0 145.5C162.0 144.9 176.0 144.4 190.0 143.8C205.7 143.3 221.3 142.2 237.0 142.2C258.0 142.2 279.0 147.0 300.0 150.3C313.3 152.4 326.7 154.6 340.0 158.3C354.7 162.4 369.3 170.7 384.0 179.0C391.0 183.0 398.0 191.0 405.0 193.3C411.7 195.4 418.3 196.6 425.0 197.4C430.0 198.0 435.0 198.0 440.0 198.8C445.0 199.6 450.0 208.4 455.0 213.8C460.0 219.1 465.0 227.1 470.0 231.2C476.7 236.7 483.3 240.9 490.0 243.7C495.0 245.8 500.0 246.0 505.0 248.7C508.3 250.5 511.7 255.3 515.0 260.3C520.0 267.7 525.0 281.3 530.0 294.0C534.3 304.9 538.7 320.3 543.0 331.5C544.3 335.0 545.7 339.3 547.0 341.1C548.3 343.0 549.7 345.0 551.0 345.0C552.7 345.0 554.3 343.1 556.0 341.6C559.0 338.8 562.0 331.8 565.0 326.9C568.3 321.5 571.7 314.0 575.0 310.6C579.0 306.6 583.0 302.0 587.0 302.0C591.3 302.0 595.7 307.1 600.0 310.6C605.0 314.8 610.0 320.0 615.0 327.2C623.3 339.3 631.7 361.0 640.0 384.5C648.3 408.1 656.7 453.2 665.0 476.5C671.0 493.3 677.0 518.0 683.0 518.0C688.7 518.0 694.3 515.2 700.0 514.1C705.0 513.1 710.0 511.5 715.0 511.5C720.0 511.5 725.0 512.8 730.0 513.5C734.0 514.1 738.0 514.0 742.0 515.5C743.8 516.2 745.7 532.7 747.5 541.8C749.2 550.0 750.9 559.0 752.6 567.4C754.2 575.8 755.9 584.0 757.6 592.2C759.3 600.3 760.9 608.3 762.6 616.1C764.3 624.0 766.0 631.7 767.7 639.3C769.3 646.8 771.0 654.3 772.7 661.5C774.4 668.8 776.0 675.9 777.7 682.8C779.4 689.8 781.1 696.6 782.8 703.2C784.4 709.8 786.1 716.2 787.8 722.4C789.5 728.6 791.1 734.7 792.8 740.5C794.5 746.4 796.2 752.0 797.8 757.4C799.5 762.8 801.2 768.0 802.9 772.8C804.6 777.7 806.2 782.4 807.9 786.7C809.6 791.0 811.3 795.2 812.9 798.7C814.6 802.3 816.3 805.9 818.0 808.3C819.6 810.7 821.3 814.0 823.0 814.0C827.0 814.0 831.0 812.1 835.0 810.8C840.0 809.2 845.0 806.8 850.0 804.4C860.0 799.6 870.0 793.1 880.0 787.2C889.7 781.6 899.3 775.8 909.0 770.1C919.3 764.0 929.7 759.0 940.0 751.9C951.0 744.5 962.0 732.0 973.0 725.2C981.3 720.0 989.7 712.4 998.0 712.4C999.7 712.4 1001.3 715.6 1003.0 715.6C1007.7 715.6 1012.3 707.0 1017.0 707.0C1021.1 707.0 1025.2 717.6 1029.4 722.9C1042.4 739.7 1055.5 756.5 1068.5 773.3C1081.5 790.1 1094.6 806.9 1107.6 823.6C1111.8 829.0 1115.9 839.6 1120.0 839.6C1133.3 839.6 1146.7 838.6 1160.0 837.2C1173.3 835.9 1186.7 827.9 1200.0 820.1C1210.0 814.4 1220.0 804.3 1230.0 794.5C1238.3 786.3 1246.7 774.6 1255.0 766.0C1260.0 760.9 1265.0 754.7 1270.0 751.8C1273.7 749.6 1277.3 747.0 1281.0 747.0C1285.0 747.0 1289.0 750.1 1293.0 752.7C1298.7 756.4 1304.3 765.6 1310.0 771.7C1316.7 778.9 1323.3 787.0 1330.0 792.6C1336.7 798.2 1343.3 802.7 1350.0 806.9C1360.0 813.0 1370.0 819.7 1380.0 823.0C1391.3 826.7 1402.7 830.2 1414.0 831.0" stroke="url(#g13)"/><path d="M148.0 154.0C162.0 153.3 176.0 152.6 190.0 152.0C205.7 151.3 221.3 150.0 237.0 150.0C258.0 150.0 279.0 152.6 300.0 154.6C313.3 155.8 326.7 156.8 340.0 159.5C354.7 162.5 369.3 183.5 384.0 190.0C391.0 193.1 398.0 196.1 405.0 197.2C411.7 198.3 418.3 198.9 425.0 199.3C430.0 199.6 435.0 199.6 440.0 200.0C445.0 200.4 450.0 211.1 455.0 217.3C460.0 223.5 465.0 232.7 470.0 237.5C476.7 243.9 483.3 248.6 490.0 251.9C495.0 254.4 500.0 254.7 505.0 257.7C508.3 259.7 511.7 264.2 515.0 269.1C520.0 276.5 525.0 289.9 530.0 302.5C534.3 313.4 538.7 328.6 543.0 339.7C544.3 343.1 545.7 347.4 547.0 349.2C548.3 351.0 549.7 353.0 551.0 353.0C552.7 353.0 554.3 351.0 556.0 349.4C559.0 346.5 562.0 339.2 565.0 334.1C568.3 328.4 571.7 320.5 575.0 317.0C579.0 312.8 583.0 308.0 587.0 308.0C591.3 308.0 595.7 312.9 600.0 316.4C605.0 320.5 610.0 325.9 615.0 333.1C623.3 345.0 631.7 365.0 640.0 387.6C648.3 410.2 656.7 454.2 665.0 477.4C671.0 494.0 677.0 519.0 683.0 519.0C688.7 519.0 694.3 516.2 700.0 515.1C705.0 514.1 710.0 512.5 715.0 512.5C720.0 512.5 725.0 513.8 730.0 514.5C734.0 515.1 738.0 515.0 742.0 516.5C743.8 517.2 745.7 533.7 747.5 542.8C749.2 551.0 750.9 560.0 752.6 568.4C754.2 576.8 755.9 585.0 757.6 593.2C759.3 601.3 760.9 609.3 762.6 617.1C764.3 625.0 766.0 632.7 767.7 640.3C769.3 647.8 771.0 655.3 772.7 662.5C774.4 669.8 776.0 676.9 777.7 683.8C779.4 690.8 781.1 697.6 782.8 704.2C784.4 710.8 786.1 717.2 787.8 723.4C789.5 729.6 791.1 735.7 792.8 741.5C794.5 747.4 796.2 753.0 797.8 758.4C799.5 763.8 801.2 769.0 802.9 773.8C804.6 778.7 806.2 783.4 807.9 787.7C809.6 792.0 811.3 796.2 812.9 799.7C814.6 803.3 816.3 806.9 818.0 809.3C819.6 811.7 821.3 815.0 823.0 815.0C827.0 815.0 831.0 813.1 835.0 811.9C840.0 810.2 845.0 807.9 850.0 805.5C860.0 800.8 870.0 794.4 880.0 788.8C889.7 783.2 899.3 777.5 909.0 772.0C919.3 766.0 929.7 761.0 940.0 754.1C951.0 746.8 962.0 734.6 973.0 727.9C981.3 722.8 989.7 715.2 998.0 715.2C999.7 715.2 1001.3 718.4 1003.0 718.4C1007.7 718.4 1012.3 710.0 1017.0 710.0C1021.1 710.0 1025.2 720.4 1029.4 725.6C1042.4 742.1 1055.5 758.5 1068.5 775.0C1081.5 791.5 1094.6 807.9 1107.6 824.4C1111.8 829.6 1115.9 840.0 1120.0 840.0C1133.3 840.0 1146.7 838.9 1160.0 837.4C1173.3 835.8 1186.7 828.2 1200.0 820.6C1210.0 814.9 1220.0 805.1 1230.0 795.5C1238.3 787.5 1246.7 776.0 1255.0 767.6C1260.0 762.6 1265.0 756.5 1270.0 753.6C1273.7 751.6 1277.3 749.0 1281.0 749.0C1285.0 749.0 1289.0 752.0 1293.0 754.6C1298.7 758.2 1304.3 767.2 1310.0 773.2C1316.7 780.2 1323.3 788.1 1330.0 793.6C1336.7 799.2 1343.3 803.5 1350.0 807.6C1360.0 813.7 1370.0 820.2 1380.0 823.4C1391.3 827.0 1402.7 830.3 1414.0 831.0" stroke="#ea72c4"/><path d="M148.0 339.0C155.3 333.4 162.7 328.2 170.0 325.8C180.0 322.6 190.0 319.4 200.0 319.4C212.3 319.4 224.7 319.7 237.0 320.3C244.7 320.7 252.3 325.5 260.0 329.5C266.7 333.0 273.3 338.2 280.0 344.3C283.3 347.3 286.7 351.5 290.0 355.4C293.3 359.3 296.7 363.3 300.0 368.0C303.3 372.7 306.7 379.1 310.0 384.0C313.3 388.9 316.7 393.7 320.0 397.8C323.3 401.9 326.7 405.7 330.0 409.0C333.3 412.3 336.7 414.3 340.0 418.0C343.3 421.7 346.7 426.6 350.0 432.0C353.3 437.4 356.7 444.5 360.0 451.0C363.3 457.5 366.7 466.8 370.0 471.0C374.7 476.9 379.3 480.1 384.0 483.6C389.3 487.6 394.7 491.7 400.0 493.8C405.0 495.7 410.0 497.1 415.0 498.0C420.0 498.9 425.0 498.9 430.0 500.0C435.0 501.1 440.0 507.6 445.0 512.0C450.0 516.4 455.0 522.2 460.0 526.7C465.0 531.2 470.0 536.3 475.0 539.0C480.0 541.7 485.0 543.0 490.0 545.0C493.3 546.3 496.7 547.2 500.0 549.0C505.0 551.8 510.0 559.3 515.0 563.6C520.0 567.9 525.0 571.8 530.0 575.0C537.0 579.5 544.0 586.4 551.0 586.4C555.7 586.4 560.3 579.3 565.0 578.0C571.7 576.1 578.3 574.5 585.0 574.5C590.0 574.5 595.0 575.8 600.0 577.0C605.3 578.3 610.7 581.2 616.0 584.6C624.0 589.6 632.0 600.2 640.0 608.6C646.7 615.6 653.3 627.7 660.0 630.8C666.7 633.9 673.3 636.7 680.0 636.7C686.7 636.7 693.3 634.5 700.0 634.5C706.7 634.5 713.3 634.5 720.0 634.5C726.0 634.5 732.0 635.0 738.0 635.0C739.3 635.0 740.7 626.0 742.0 626.0C743.8 626.0 745.7 643.0 747.5 651.4C749.2 659.0 750.9 667.0 752.6 674.2C754.2 681.4 755.9 688.2 757.6 694.5C759.3 700.9 760.9 707.0 762.6 712.6C764.3 718.2 766.0 723.5 767.7 728.4C769.3 733.3 771.0 737.9 772.7 742.1C774.4 746.3 776.0 750.2 777.7 753.7C779.4 757.3 781.1 760.6 782.8 763.5C784.4 766.5 786.1 769.2 787.8 771.5C789.5 773.9 791.1 776.1 792.8 777.9C794.5 779.8 796.2 781.5 797.8 782.8C799.5 784.2 801.2 785.5 802.9 786.4C804.6 787.4 806.2 788.2 807.9 788.8C809.6 789.4 811.3 789.9 812.9 790.2C814.6 790.5 816.3 790.8 818.0 790.9C819.6 790.9 821.3 791.0 823.0 791.0C827.0 791.0 831.0 789.6 835.0 788.7C840.0 787.5 845.0 785.7 850.0 784.0C860.0 780.5 870.0 775.7 880.0 771.5C889.7 767.4 899.3 763.2 909.0 759.0C919.3 754.6 929.7 750.9 940.0 745.8C951.0 740.3 962.0 731.3 973.0 726.3C981.3 722.5 989.7 716.9 998.0 716.9C999.7 716.9 1001.3 719.2 1003.0 719.2C1007.7 719.2 1012.3 713.0 1017.0 713.0C1021.1 713.0 1025.2 723.2 1029.4 728.3C1042.4 744.4 1055.5 760.6 1068.5 776.7C1081.5 792.9 1094.6 809.0 1107.6 825.2C1111.8 830.2 1115.9 840.4 1120.0 840.4C1133.3 840.4 1146.7 839.1 1160.0 837.5C1173.3 835.8 1186.7 828.5 1200.0 821.1C1210.0 815.5 1220.0 805.9 1230.0 796.5C1238.3 788.7 1246.7 777.4 1255.0 769.2C1260.0 764.3 1265.0 758.3 1270.0 755.5C1273.7 753.5 1277.3 751.0 1281.0 751.0C1285.0 751.0 1289.0 754.0 1293.0 756.5C1298.7 760.0 1304.3 768.8 1310.0 774.7C1316.7 781.6 1323.3 789.3 1330.0 794.7C1336.7 800.1 1343.3 804.4 1350.0 808.3C1360.0 814.3 1370.0 820.8 1380.0 823.8C1391.3 827.2 1402.7 830.4 1414.0 831.0" stroke="#ff7f0e"/><path d="M148.0 158.0C162.0 157.2 176.0 156.5 190.0 155.8C205.7 155.0 221.3 153.5 237.0 153.5C258.0 153.5 279.0 157.7 300.0 160.0C313.3 161.4 326.7 162.0 340.0 164.5C354.7 167.3 369.3 180.0 384.0 191.0C391.0 196.2 398.0 207.4 405.0 210.4C411.7 213.3 418.3 215.0 425.0 216.1C430.0 217.0 435.0 216.9 440.0 218.0C445.0 219.1 450.0 225.8 455.0 230.2C460.0 234.5 465.0 241.0 470.0 244.3C476.7 248.8 483.3 252.1 490.0 254.4C495.0 256.2 500.0 256.2 505.0 258.5C508.3 260.0 511.7 265.0 515.0 270.0C520.0 277.4 525.0 290.8 530.0 303.4C534.3 314.3 538.7 329.5 543.0 340.6C544.3 344.0 545.7 348.4 547.0 350.2C548.3 352.0 549.7 354.0 551.0 354.0C552.7 354.0 554.3 352.0 556.0 350.4C559.0 347.5 562.0 340.2 565.0 335.1C568.3 329.4 571.7 321.5 575.0 318.0C579.0 313.8 583.0 309.0 587.0 309.0C591.3 309.0 595.7 314.0 600.0 317.6C605.0 321.8 610.0 327.7 615.0 335.1C623.3 347.5 631.7 366.7 640.0 389.5C648.3 412.2 656.7 457.1 665.0 481.2C671.0 498.6 677.0 525.0 683.0 525.0C688.7 525.0 694.3 522.4 700.0 521.4C705.0 520.5 710.0 519.0 715.0 519.0C720.0 519.0 725.0 520.3 730.0 521.0C734.0 521.6 738.0 521.5 742.0 523.0C743.8 523.7 745.7 540.2 747.5 549.3C749.2 557.5 750.9 566.4 752.6 574.8C754.2 583.2 755.9 591.4 757.6 599.5C759.3 607.6 760.9 615.5 762.6 623.3C764.3 631.1 766.0 638.8 767.7 646.3C769.3 653.8 771.0 661.2 772.7 668.4C774.4 675.5 776.0 682.6 777.7 689.4C779.4 696.3 781.1 703.0 782.8 709.5C784.4 716.0 786.1 722.3 787.8 728.4C789.5 734.5 791.1 740.5 792.8 746.2C794.5 751.9 796.2 757.4 797.8 762.6C799.5 767.9 801.2 772.9 802.9 777.7C804.6 782.4 806.2 787.0 807.9 791.1C809.6 795.2 811.3 799.2 812.9 802.6C814.6 806.0 816.3 809.5 818.0 811.7C819.6 814.0 821.3 817.0 823.0 817.0C827.0 817.0 831.0 815.2 835.0 814.0C840.0 812.4 845.0 810.2 850.0 807.9C860.0 803.4 870.0 797.2 880.0 791.8C889.7 786.5 899.3 781.0 909.0 775.6C919.3 769.8 929.7 765.0 940.0 758.4C951.0 751.4 962.0 739.6 973.0 733.2C981.3 728.3 989.7 721.0 998.0 721.0C999.7 721.0 1001.3 724.1 1003.0 724.1C1007.7 724.1 1012.3 716.0 1017.0 716.0C1021.1 716.0 1025.2 726.0 1029.4 731.0C1042.4 746.8 1055.5 762.6 1068.5 778.4C1081.5 794.3 1094.6 810.1 1107.6 825.9C1111.8 830.9 1115.9 840.9 1120.0 840.9C1133.3 840.9 1146.7 839.4 1160.0 837.5C1173.3 835.7 1186.7 828.8 1200.0 821.5C1210.0 816.1 1220.0 806.7 1230.0 797.5C1238.3 789.8 1246.7 778.8 1255.0 770.8C1260.0 766.0 1265.0 760.2 1270.0 757.5C1273.7 755.4 1277.3 753.0 1281.0 753.0C1285.0 753.0 1289.0 755.9 1293.0 758.3C1298.7 761.8 1304.3 770.4 1310.0 776.1C1316.7 782.9 1323.3 790.4 1330.0 795.7C1336.7 801.0 1343.3 805.2 1350.0 809.1C1360.0 814.9 1370.0 821.3 1380.0 824.2C1391.3 827.5 1402.7 830.6 1414.0 831.0" stroke="url(#g16)"/><path d="M148.0 160.0C162.0 159.6 176.0 159.3 190.0 158.9C205.7 158.6 221.3 157.9 237.0 157.9C258.0 157.9 279.0 164.1 300.0 168.0C313.3 170.5 326.7 173.0 340.0 176.8C354.7 181.0 369.3 186.0 384.0 195.0C391.0 199.3 398.0 212.6 405.0 215.9C411.7 219.0 418.3 220.7 425.0 222.0C430.0 222.9 435.0 222.8 440.0 224.0C445.0 225.2 450.0 232.8 455.0 237.8C460.0 242.8 465.0 250.1 470.0 253.9C476.7 259.0 483.3 262.8 490.0 265.4C495.0 267.4 500.0 267.5 505.0 270.0C508.3 271.7 511.7 276.2 515.0 280.9C520.0 288.0 525.0 300.8 530.0 312.8C534.3 323.2 538.7 337.7 543.0 348.3C544.3 351.5 545.7 355.6 547.0 357.4C548.3 359.1 549.7 361.0 551.0 361.0C552.7 361.0 554.3 359.3 556.0 357.8C559.0 355.3 562.0 348.9 565.0 344.4C568.3 339.4 571.7 332.5 575.0 329.4C579.0 325.7 583.0 321.5 587.0 321.5C591.3 321.5 595.7 326.2 600.0 329.7C605.0 333.7 610.0 339.6 615.0 346.7C623.3 358.5 631.7 375.6 640.0 396.7C648.3 417.9 656.7 460.3 665.0 483.5C671.0 500.2 677.0 526.0 683.0 526.0C688.7 526.0 694.3 523.4 700.0 522.4C705.0 521.5 710.0 520.0 715.0 520.0C720.0 520.0 725.0 521.3 730.0 522.0C734.0 522.6 738.0 522.5 742.0 524.0C743.8 524.7 745.7 541.2 747.5 550.3C749.2 558.5 750.9 567.4 752.6 575.8C754.2 584.2 755.9 592.4 757.6 600.5C759.3 608.6 760.9 616.5 762.6 624.3C764.3 632.1 766.0 639.8 767.7 647.3C769.3 654.8 771.0 662.2 772.7 669.4C774.4 676.5 776.0 683.6 777.7 690.4C779.4 697.3 781.1 704.0 782.8 710.5C784.4 717.0 786.1 723.3 787.8 729.4C789.5 735.5 791.1 741.5 792.8 747.2C794.5 752.9 796.2 758.4 797.8 763.6C799.5 768.9 801.2 773.9 802.9 778.7C804.6 783.4 806.2 788.0 807.9 792.1C809.6 796.2 811.3 800.2 812.9 803.6C814.6 807.0 816.3 810.5 818.0 812.7C819.6 815.0 821.3 818.0 823.0 818.0C827.0 818.0 831.0 816.2 835.0 815.0C840.0 813.5 845.0 811.3 850.0 809.1C860.0 804.6 870.0 798.6 880.0 793.2C889.7 788.1 899.3 782.7 909.0 777.4C919.3 771.8 929.7 767.1 940.0 760.6C951.0 753.7 962.0 742.2 973.0 735.8C981.3 731.0 989.7 724.0 998.0 724.0C999.7 724.0 1001.3 726.9 1003.0 726.9C1007.7 726.9 1012.3 719.0 1017.0 719.0C1021.1 719.0 1025.2 728.8 1029.4 733.7C1042.4 749.2 1055.5 764.7 1068.5 780.2C1081.5 795.7 1094.6 811.2 1107.6 826.7C1111.8 831.5 1115.9 841.3 1120.0 841.3C1133.3 841.3 1146.7 839.6 1160.0 837.6C1173.3 835.7 1186.7 829.1 1200.0 822.0C1210.0 816.7 1220.0 807.5 1230.0 798.5C1238.3 791.0 1246.7 780.2 1255.0 772.4C1260.0 767.7 1265.0 762.0 1270.0 759.4C1273.7 757.4 1277.3 755.0 1281.0 755.0C1285.0 755.0 1289.0 757.8 1293.0 760.2C1298.7 763.6 1304.3 772.0 1310.0 777.6C1316.7 784.2 1323.3 791.6 1330.0 796.8C1336.7 801.9 1343.3 806.0 1350.0 809.8C1360.0 815.5 1370.0 821.8 1380.0 824.6C1391.3 827.7 1402.7 830.7 1414.0 831.0" stroke="#ea72c4"/><path d="M148.0 165.0C162.0 163.9 176.0 162.9 190.0 162.0C205.7 160.9 221.3 159.0 237.0 159.0C258.0 159.0 279.0 189.4 300.0 191.0C313.3 192.0 326.7 191.8 340.0 192.8C354.7 193.9 369.3 197.7 384.0 203.5C391.0 206.3 398.0 217.2 405.0 219.7C411.7 222.1 418.3 223.5 425.0 224.4C430.0 225.1 435.0 225.0 440.0 226.0C445.0 227.0 450.0 236.4 455.0 242.2C460.0 248.0 465.0 256.6 470.0 261.1C476.7 267.0 483.3 271.5 490.0 274.6C495.0 276.9 500.0 277.3 505.0 280.0C508.3 281.8 511.7 285.6 515.0 289.8C520.0 296.2 525.0 307.7 530.0 318.5C534.3 327.9 538.7 341.0 543.0 350.5C544.3 353.5 545.7 357.2 547.0 358.7C548.3 360.3 549.7 362.0 551.0 362.0C552.7 362.0 554.3 360.3 556.0 358.8C559.0 356.3 562.0 349.9 565.0 345.4C568.3 340.4 571.7 333.5 575.0 330.4C579.0 326.7 583.0 322.5 587.0 322.5C591.3 322.5 595.7 327.3 600.0 330.9C605.0 335.0 610.0 341.4 615.0 348.7C623.3 360.9 631.7 377.3 640.0 398.6C648.3 419.9 656.7 463.2 665.0 487.3C671.0 504.7 677.0 532.0 683.0 532.0C688.7 532.0 694.3 529.9 700.0 529.0C705.0 528.2 710.0 527.0 715.0 527.0C720.0 527.0 725.0 528.3 730.0 529.0C734.0 529.6 738.0 529.5 742.0 531.0C743.8 531.7 745.7 548.2 747.5 557.3C749.2 565.5 750.9 574.4 752.6 582.7C754.2 591.0 755.9 599.2 757.6 607.3C759.3 615.3 760.9 623.2 762.6 630.9C764.3 638.7 766.0 646.3 767.7 653.7C769.3 661.1 771.0 668.4 772.7 675.4C774.4 682.5 776.0 689.5 777.7 696.2C779.4 702.9 781.1 709.5 782.8 715.9C784.4 722.2 786.1 728.4 787.8 734.4C789.5 740.3 791.1 746.1 792.8 751.6C794.5 757.2 796.2 762.5 797.8 767.6C799.5 772.6 801.2 777.5 802.9 782.1C804.6 786.6 806.2 791.0 807.9 794.9C809.6 798.8 811.3 802.6 812.9 805.8C814.6 809.0 816.3 812.2 818.0 814.3C819.6 816.3 821.3 819.0 823.0 819.0C827.0 819.0 831.0 817.3 835.0 816.1C840.0 814.6 845.0 812.5 850.0 810.3C860.0 805.9 870.0 800.0 880.0 794.8C889.7 789.7 899.3 784.4 909.0 779.2C919.3 773.7 929.7 769.1 940.0 762.7C951.0 756.0 962.0 744.7 973.0 738.5C981.3 733.8 989.7 726.9 998.0 726.9C999.7 726.9 1001.3 729.8 1003.0 729.8C1007.7 729.8 1012.3 722.0 1017.0 722.0C1021.1 722.0 1025.2 731.6 1029.4 736.4C1042.4 751.5 1055.5 766.7 1068.5 781.9C1081.5 797.1 1094.6 812.2 1107.6 827.4C1111.8 832.2 1115.9 841.8 1120.0 841.8C1133.3 841.8 1146.7 839.9 1160.0 837.8C1173.3 835.6 1186.7 829.4 1200.0 822.5C1210.0 817.3 1220.0 808.3 1230.0 799.5C1238.3 792.2 1246.7 781.7 1255.0 774.0C1260.0 769.4 1265.0 763.9 1270.0 761.2C1273.7 759.3 1277.3 757.0 1281.0 757.0C1285.0 757.0 1289.0 759.8 1293.0 762.1C1298.7 765.4 1304.3 773.6 1310.0 779.1C1316.7 785.5 1323.3 792.7 1330.0 797.8C1336.7 802.9 1343.3 806.9 1350.0 810.5C1360.0 816.1 1370.0 822.4 1380.0 825.0C1391.3 828.0 1402.7 830.8 1414.0 831.0" stroke="url(#g18)"/><path d="M148.0 174.0C162.0 174.2 176.0 174.4 190.0 174.7C205.7 174.9 221.3 174.9 237.0 175.3C258.0 175.8 279.0 190.4 300.0 194.0C313.3 196.3 326.7 196.9 340.0 199.0C354.7 201.3 369.3 203.2 384.0 208.5C391.0 211.0 398.0 222.1 405.0 224.6C411.7 226.9 418.3 228.3 425.0 229.2C430.0 229.9 435.0 229.8 440.0 230.8C445.0 231.8 450.0 242.2 455.0 248.6C460.0 254.9 465.0 264.4 470.0 269.3C476.7 275.8 483.3 280.7 490.0 284.1C495.0 286.6 500.0 287.1 505.0 290.0C508.3 291.9 511.7 295.6 515.0 299.9C520.0 306.3 525.0 317.9 530.0 328.8C534.3 338.2 538.7 351.4 543.0 360.9C544.3 363.9 545.7 367.6 547.0 369.2C548.3 370.8 549.7 372.5 551.0 372.5C552.7 372.5 554.3 370.6 556.0 369.0C559.0 366.2 562.0 359.1 565.0 354.1C568.3 348.6 571.7 340.9 575.0 337.5C579.0 333.4 583.0 328.7 587.0 328.7C591.3 328.7 595.7 333.3 600.0 336.9C605.0 341.0 610.0 347.6 615.0 354.7C623.3 366.7 631.7 381.6 640.0 401.9C648.3 422.3 656.7 464.5 665.0 488.4C671.0 505.6 677.0 533.0 683.0 533.0C688.7 533.0 694.3 530.9 700.0 530.0C705.0 529.2 710.0 528.0 715.0 528.0C720.0 528.0 725.0 529.3 730.0 530.0C734.0 530.6 738.0 530.5 742.0 532.0C743.8 532.7 745.7 549.2 747.5 558.3C749.2 566.5 750.9 575.4 752.6 583.7C754.2 592.0 755.9 600.2 757.6 608.3C759.3 616.3 760.9 624.2 762.6 631.9C764.3 639.7 766.0 647.3 767.7 654.7C769.3 662.1 771.0 669.4 772.7 676.4C774.4 683.5 776.0 690.5 777.7 697.2C779.4 703.9 781.1 710.5 782.8 716.9C784.4 723.2 786.1 729.4 787.8 735.4C789.5 741.3 791.1 747.1 792.8 752.6C794.5 758.2 796.2 763.5 797.8 768.6C799.5 773.6 801.2 778.5 802.9 783.1C804.6 787.6 806.2 792.0 807.9 795.9C809.6 799.8 811.3 803.6 812.9 806.8C814.6 810.0 816.3 813.2 818.0 815.3C819.6 817.3 821.3 820.0 823.0 820.0C827.0 820.0 831.0 818.3 835.0 817.1C840.0 815.7 845.0 813.6 850.0 811.5C860.0 807.2 870.0 801.4 880.0 796.2C889.7 791.3 899.3 786.1 909.0 781.0C919.3 775.7 929.7 771.1 940.0 764.9C951.0 758.3 962.0 747.2 973.0 741.1C981.3 736.5 989.7 729.8 998.0 729.8C999.7 729.8 1001.3 732.6 1003.0 732.6C1007.7 732.6 1012.3 725.0 1017.0 725.0C1021.1 725.0 1025.2 734.4 1029.4 739.1C1042.4 753.9 1055.5 768.8 1068.5 783.6C1081.5 798.5 1094.6 813.3 1107.6 828.2C1111.8 832.8 1115.9 842.2 1120.0 842.2C1133.3 842.2 1146.7 840.1 1160.0 837.9C1173.3 835.6 1186.7 829.7 1200.0 822.9C1210.0 817.8 1220.0 809.1 1230.0 800.5C1238.3 793.4 1246.7 783.1 1255.0 775.6C1260.0 771.1 1265.0 765.7 1270.0 763.1C1273.7 761.3 1277.3 759.0 1281.0 759.0C1285.0 759.0 1289.0 761.7 1293.0 764.0C1298.7 767.2 1304.3 775.2 1310.0 780.6C1316.7 786.9 1323.3 793.9 1330.0 798.8C1336.7 803.8 1343.3 807.7 1350.0 811.3C1360.0 816.7 1370.0 822.9 1380.0 825.4C1391.3 828.2 1402.7 831.0 1414.0 831.0" stroke="url(#g19)"/><path d="M148.0 177.5C162.0 178.5 176.0 179.5 190.0 180.3C205.7 181.4 221.3 181.7 237.0 183.2C258.0 185.2 279.0 195.9 300.0 201.4C313.3 204.9 326.7 207.3 340.0 211.2C354.7 215.5 369.3 219.3 384.0 227.0C391.0 230.7 398.0 241.6 405.0 244.3C411.7 246.8 418.3 248.3 425.0 249.3C430.0 250.1 435.0 250.0 440.0 251.0C445.0 252.0 450.0 260.0 455.0 265.1C460.0 270.2 465.0 277.7 470.0 281.6C476.7 286.7 483.3 290.6 490.0 293.3C495.0 295.3 500.0 295.6 505.0 298.0C508.3 299.6 511.7 303.3 515.0 307.4C520.0 313.4 525.0 324.4 530.0 334.7C534.3 343.6 538.7 356.0 543.0 365.1C544.3 367.9 545.7 371.4 547.0 372.9C548.3 374.4 549.7 376.0 551.0 376.0C552.7 376.0 554.3 374.2 556.0 372.8C559.0 370.2 562.0 363.7 565.0 359.2C568.3 354.1 571.7 347.1 575.0 344.0C579.0 340.2 583.0 336.0 587.0 336.0C591.3 336.0 595.7 340.6 600.0 344.2C605.0 348.3 610.0 355.3 615.0 362.5C623.3 374.6 631.7 388.5 640.0 408.5C648.3 428.5 656.7 470.9 665.0 495.1C671.0 512.6 677.0 541.0 683.0 541.0C688.7 541.0 694.3 538.9 700.0 538.0C705.0 537.2 710.0 536.0 715.0 536.0C720.0 536.0 725.0 537.3 730.0 538.0C734.0 538.6 738.0 538.5 742.0 540.0C743.8 540.7 745.7 557.2 747.5 566.2C749.2 574.4 750.9 583.3 752.6 591.6C754.2 599.9 755.9 608.0 757.6 616.0C759.3 624.0 760.9 631.8 762.6 639.4C764.3 647.1 766.0 654.6 767.7 661.9C769.3 669.2 771.0 676.4 772.7 683.3C774.4 690.3 776.0 697.1 777.7 703.7C779.4 710.3 781.1 716.7 782.8 722.9C784.4 729.1 786.1 735.1 787.8 740.9C789.5 746.7 791.1 752.3 792.8 757.6C794.5 763.0 796.2 768.1 797.8 772.9C799.5 777.8 801.2 782.5 802.9 786.8C804.6 791.1 806.2 795.2 807.9 798.9C809.6 802.6 811.3 806.1 812.9 809.0C814.6 812.0 816.3 815.0 818.0 816.8C819.6 818.6 821.3 821.0 823.0 821.0C827.0 821.0 831.0 819.3 835.0 818.2C840.0 816.8 845.0 814.7 850.0 812.6C860.0 808.4 870.0 802.8 880.0 797.8C889.7 792.9 899.3 787.8 909.0 782.9C919.3 777.6 929.7 773.2 940.0 767.1C951.0 760.6 962.0 749.8 973.0 743.8C981.3 739.3 989.7 732.6 998.0 732.6C999.7 732.6 1001.3 735.4 1003.0 735.4C1007.7 735.4 1012.3 728.0 1017.0 728.0C1021.1 728.0 1025.2 737.2 1029.4 741.8C1042.4 756.3 1055.5 770.8 1068.5 785.3C1081.5 799.9 1094.6 814.4 1107.6 828.9C1111.8 833.5 1115.9 842.7 1120.0 842.7C1133.3 842.7 1146.7 840.3 1160.0 838.0C1173.3 835.6 1186.7 830.0 1200.0 823.4C1210.0 818.4 1220.0 809.9 1230.0 801.5C1238.3 794.5 1246.7 784.5 1255.0 777.2C1260.0 772.8 1265.0 767.5 1270.0 765.0C1273.7 763.2 1277.3 761.0 1281.0 761.0C1285.0 761.0 1289.0 763.6 1293.0 765.9C1298.7 769.0 1304.3 776.8 1310.0 782.1C1316.7 788.2 1323.3 795.1 1330.0 799.9C1336.7 804.7 1343.3 808.5 1350.0 812.0C1360.0 817.3 1370.0 823.5 1380.0 825.8C1391.3 828.4 1402.7 831.0 1414.0 831.0" stroke="url(#g20)"/><path d="M148.0 241.0C153.7 238.7 159.3 236.2 165.0 235.4C176.7 233.8 188.3 232.6 200.0 232.6C212.3 232.6 224.7 233.4 237.0 234.5C244.7 235.2 252.3 237.1 260.0 239.0C270.0 241.5 280.0 245.8 290.0 250.0C296.7 252.8 303.3 257.1 310.0 259.4C316.7 261.7 323.3 262.9 330.0 265.0C336.7 267.1 343.3 268.4 350.0 272.3C353.3 274.2 356.7 279.0 360.0 283.4C363.3 287.8 366.7 294.5 370.0 300.0C372.7 304.4 375.3 308.7 378.0 313.0C380.7 317.3 383.3 322.6 386.0 325.8C390.7 331.3 395.3 336.9 400.0 338.5C408.3 341.4 416.7 340.9 425.0 343.4C430.0 344.9 435.0 348.4 440.0 351.6C445.0 354.8 450.0 359.0 455.0 363.0C460.0 367.0 465.0 372.5 470.0 376.0C476.7 380.7 483.3 384.6 490.0 387.7C493.3 389.2 496.7 389.6 500.0 391.6C506.7 395.5 513.3 412.2 520.0 423.0C525.0 431.1 530.0 445.5 535.0 448.0C540.0 450.5 545.0 452.5 550.0 452.5C556.7 452.5 563.3 441.2 570.0 436.7C575.0 433.3 580.0 427.7 585.0 427.7C590.0 427.7 595.0 431.9 600.0 434.5C605.0 437.1 610.0 439.7 615.0 443.5C620.0 447.3 625.0 452.6 630.0 459.3C635.0 466.0 640.0 476.7 645.0 486.4C650.0 496.1 655.0 508.3 660.0 518.0C663.3 524.4 666.7 530.9 670.0 536.0C674.3 542.6 678.7 553.0 683.0 553.0C688.7 553.0 694.3 552.5 700.0 552.0C705.0 551.6 710.0 550.0 715.0 550.0C724.0 550.0 733.0 550.5 742.0 553.0C743.8 553.5 745.7 570.2 747.5 579.2C749.2 587.3 750.9 596.1 752.6 604.3C754.2 612.6 755.9 620.6 757.6 628.5C759.3 636.3 760.9 644.0 762.6 651.6C764.3 659.1 766.0 666.4 767.7 673.5C769.3 680.7 771.0 687.6 772.7 694.4C774.4 701.1 776.0 707.7 777.7 714.0C779.4 720.3 781.1 726.5 782.8 732.4C784.4 738.3 786.1 744.0 787.8 749.5C789.5 755.0 791.1 760.2 792.8 765.2C794.5 770.2 796.2 775.0 797.8 779.5C799.5 784.0 801.2 788.2 802.9 792.2C804.6 796.1 806.2 799.8 807.9 803.1C809.6 806.4 811.3 809.5 812.9 812.1C814.6 814.6 816.3 817.2 818.0 818.7C819.6 820.2 821.3 822.0 823.0 822.0C827.0 822.0 831.0 820.4 835.0 819.3C840.0 817.9 845.0 815.9 850.0 813.8C860.0 809.7 870.0 804.2 880.0 799.2C889.7 794.5 899.3 789.5 909.0 784.7C919.3 779.5 929.7 775.2 940.0 769.2C951.0 762.9 962.0 752.3 973.0 746.5C981.3 742.1 989.7 735.5 998.0 735.5C999.7 735.5 1001.3 738.3 1003.0 738.3C1007.7 738.3 1012.3 731.0 1017.0 731.0C1021.1 731.0 1025.2 740.0 1029.4 744.5C1042.4 758.7 1055.5 772.9 1068.5 787.1C1081.5 801.3 1094.6 815.5 1107.6 829.7C1111.8 834.1 1115.9 843.1 1120.0 843.1C1133.3 843.1 1146.7 840.5 1160.0 838.0C1173.3 835.6 1186.7 830.3 1200.0 823.8C1210.0 819.0 1220.0 810.7 1230.0 802.5C1238.3 795.7 1246.7 785.9 1255.0 778.8C1260.0 774.5 1265.0 769.4 1270.0 767.0C1273.7 765.2 1277.3 763.0 1281.0 763.0C1285.0 763.0 1289.0 765.6 1293.0 767.7C1298.7 770.8 1304.3 778.4 1310.0 783.5C1316.7 789.5 1323.3 796.2 1330.0 800.9C1336.7 805.6 1343.3 809.3 1350.0 812.8C1360.0 817.9 1370.0 824.0 1380.0 826.2C1391.3 828.7 1402.7 831.0 1414.0 831.0" stroke="#0e9c3c"/><path d="M148.0 216.0C153.7 207.7 159.3 200.1 165.0 195.0C173.3 187.6 181.7 182.2 190.0 178.0C198.3 173.8 206.7 170.1 215.0 168.0C222.3 166.2 229.7 164.0 237.0 164.0C241.3 164.0 245.7 165.9 250.0 168.0C254.0 169.9 258.0 175.7 262.0 180.0C266.3 184.6 270.7 190.2 275.0 195.0C280.0 200.5 285.0 205.4 290.0 211.0C296.7 218.5 303.3 227.3 310.0 235.0C316.7 242.7 323.3 250.3 330.0 257.0C335.3 262.4 340.7 267.2 346.0 272.0C350.7 276.2 355.3 278.6 360.0 284.0C364.0 288.6 368.0 297.7 372.0 305.0C376.0 312.3 380.0 323.3 384.0 328.0C389.3 334.2 394.7 338.7 400.0 341.0C408.3 344.6 416.7 345.0 425.0 348.0C430.0 349.8 435.0 352.1 440.0 355.0C445.0 357.9 450.0 362.4 455.0 367.0C460.0 371.6 465.0 378.7 470.0 383.0C476.7 388.7 483.3 390.7 490.0 397.0C493.3 400.1 496.7 405.1 500.0 410.0C506.7 419.9 513.3 434.5 520.0 446.0C525.0 454.6 530.0 466.6 535.0 471.0C540.0 475.4 545.0 480.0 550.0 480.0C556.7 480.0 563.3 467.0 570.0 461.5C575.0 457.4 580.0 450.3 585.0 450.3C590.0 450.3 595.0 452.7 600.0 454.8C605.0 456.9 610.0 461.0 615.0 466.0C620.0 471.0 625.0 479.7 630.0 489.0C633.3 495.2 636.7 503.9 640.0 512.0C643.3 520.1 646.7 530.1 650.0 538.0C653.3 545.9 656.7 553.6 660.0 560.0C663.3 566.4 666.7 573.2 670.0 577.0C674.3 582.0 678.7 588.0 683.0 588.0C688.7 588.0 694.3 588.0 700.0 588.0C705.0 588.0 710.0 584.0 715.0 584.0C724.0 584.0 733.0 585.2 742.0 590.0C743.8 591.0 745.7 607.1 747.5 616.0C749.2 624.0 750.9 632.6 752.6 640.5C754.2 648.5 755.9 656.2 757.6 663.7C759.3 671.2 760.9 678.4 762.6 685.4C764.3 692.4 766.0 699.2 767.7 705.7C769.3 712.2 771.0 718.5 772.7 724.5C774.4 730.5 776.0 736.3 777.7 741.8C779.4 747.3 781.1 752.5 782.8 757.5C784.4 762.5 786.1 767.3 787.8 771.7C789.5 776.2 791.1 780.4 792.8 784.3C794.5 788.2 796.2 792.0 797.8 795.3C799.5 798.7 801.2 801.8 802.9 804.6C804.6 807.4 806.2 810.0 807.9 812.1C809.6 814.3 811.3 816.3 812.9 817.8C814.6 819.3 816.3 820.8 818.0 821.5C819.6 822.2 821.3 823.0 823.0 823.0C827.0 823.0 831.0 821.4 835.0 820.3C840.0 819.0 845.0 817.0 850.0 815.0C860.0 811.0 870.0 805.6 880.0 800.8C889.7 796.1 899.3 791.2 909.0 786.5C919.3 781.5 929.7 777.2 940.0 771.4C951.0 765.2 962.0 754.8 973.0 749.1C981.3 744.8 989.7 738.5 998.0 738.5C999.7 738.5 1001.3 741.1 1003.0 741.1C1007.7 741.1 1012.3 734.0 1017.0 734.0C1021.1 734.0 1025.2 742.8 1029.4 747.1C1042.4 761.0 1055.5 774.9 1068.5 788.8C1081.5 802.7 1094.6 816.5 1107.6 830.4C1111.8 834.8 1115.9 843.6 1120.0 843.6C1133.3 843.6 1146.7 840.7 1160.0 838.1C1173.3 835.6 1186.7 830.5 1200.0 824.3C1210.0 819.6 1220.0 811.5 1230.0 803.5C1238.3 796.9 1246.7 787.3 1255.0 780.4C1260.0 776.2 1265.0 771.2 1270.0 768.9C1273.7 767.1 1277.3 765.0 1281.0 765.0C1285.0 765.0 1289.0 767.5 1293.0 769.6C1298.7 772.6 1304.3 780.1 1310.0 785.0C1316.7 790.9 1323.3 797.4 1330.0 802.0C1336.7 806.5 1343.3 810.2 1350.0 813.5C1360.0 818.5 1370.0 824.6 1380.0 826.6C1391.3 828.9 1402.7 831.0 1414.0 831.0" stroke="#bcbd22"/><path d="M148.0 383.0C158.7 381.5 169.3 380.3 180.0 379.4C190.0 378.6 200.0 377.5 210.0 377.5C219.0 377.5 228.0 377.9 237.0 378.5C244.7 379.0 252.3 382.4 260.0 385.0C270.0 388.4 280.0 393.9 290.0 397.8C296.7 400.4 303.3 402.5 310.0 405.2C316.7 407.9 323.3 411.1 330.0 414.5C333.3 416.2 336.7 417.8 340.0 420.0C343.3 422.2 346.7 424.4 350.0 428.0C353.3 431.6 356.7 439.1 360.0 444.6C363.3 450.1 366.7 457.5 370.0 461.0C374.7 465.8 379.3 468.5 384.0 471.3C389.3 474.5 394.7 477.1 400.0 479.5C405.0 481.8 410.0 484.6 415.0 485.6C420.0 486.6 425.0 486.6 430.0 487.7C435.0 488.8 440.0 493.0 445.0 496.0C450.0 499.0 455.0 503.0 460.0 506.0C465.0 509.0 470.0 512.6 475.0 514.4C480.0 516.2 485.0 516.7 490.0 518.5C495.0 520.3 500.0 523.7 505.0 526.7C510.0 529.7 515.0 532.9 520.0 537.0C523.7 540.0 527.3 543.8 531.0 547.7C534.0 550.9 537.0 556.3 540.0 558.0C543.7 560.1 547.3 562.0 551.0 562.0C555.7 562.0 560.3 553.5 565.0 551.0C571.7 547.4 578.3 543.0 585.0 543.0C590.0 543.0 595.0 544.5 600.0 546.0C605.0 547.5 610.0 551.6 615.0 555.0C618.3 557.3 621.7 559.4 625.0 562.6C630.0 567.4 635.0 576.1 640.0 582.8C645.0 589.5 650.0 596.0 655.0 603.0C660.0 610.0 665.0 620.3 670.0 625.0C674.3 629.0 678.7 634.0 683.0 634.0C688.7 634.0 694.3 632.0 700.0 632.0C713.3 632.0 726.7 632.0 740.0 632.0C742.5 632.0 745.0 647.6 747.5 657.7C749.2 664.3 750.9 673.8 752.6 681.3C754.2 688.8 755.9 696.1 757.6 703.0C759.3 709.8 760.9 716.4 762.6 722.7C764.3 728.9 766.0 734.9 767.7 740.5C769.3 746.1 771.0 751.4 772.7 756.4C774.4 761.4 776.0 766.2 777.7 770.5C779.4 774.9 781.1 779.1 782.8 782.8C784.4 786.6 786.1 790.2 787.8 793.4C789.5 796.6 791.1 799.6 792.8 802.3C794.5 804.9 796.2 807.4 797.8 809.5C799.5 811.6 801.2 813.6 802.9 815.2C804.6 816.8 806.2 818.2 807.9 819.3C809.6 820.5 811.3 821.5 812.9 822.1C814.6 822.8 816.3 823.4 818.0 823.6C819.6 823.8 821.3 824.0 823.0 824.0C827.0 824.0 831.0 822.7 835.0 821.8C840.0 820.7 845.0 819.1 850.0 817.5C860.0 814.3 870.0 809.9 880.0 806.0C889.7 802.2 899.3 798.3 909.0 794.5C919.3 790.4 929.7 787.0 940.0 782.2C951.0 777.2 962.0 768.8 973.0 764.2C981.3 760.8 989.7 755.6 998.0 755.6C999.7 755.6 1001.3 757.8 1003.0 757.8C1007.8 757.8 1012.6 752.0 1017.4 752.0C1025.0 752.0 1032.5 764.2 1040.0 770.0C1046.7 775.2 1053.3 781.4 1060.0 785.0C1073.3 792.2 1086.7 796.7 1100.0 801.0C1113.3 805.3 1126.7 811.2 1140.0 812.0C1150.0 812.6 1160.0 813.0 1170.0 813.0C1180.0 813.0 1190.0 809.6 1200.0 807.0C1210.0 804.4 1220.0 799.8 1230.0 796.0C1238.3 792.8 1246.7 789.0 1255.0 786.0C1260.0 784.2 1265.0 781.7 1270.0 781.0C1273.7 780.5 1277.3 780.0 1281.0 780.0C1285.7 780.0 1290.3 782.3 1295.0 784.0C1303.3 787.1 1311.7 794.4 1320.0 799.0C1330.0 804.5 1340.0 810.2 1350.0 814.0C1360.0 817.8 1370.0 821.0 1380.0 823.0C1391.3 825.3 1402.7 827.3 1414.0 828.0" stroke="#bcbd22"/><path d="M148.0 183.7C162.0 184.8 176.0 185.9 190.0 186.8C205.7 188.0 221.3 188.3 237.0 190.0C258.0 192.2 279.0 201.1 300.0 208.8C313.3 213.7 326.7 221.5 340.0 227.2C354.7 233.5 369.3 237.8 384.0 245.0C391.0 248.4 398.0 255.3 405.0 257.2C411.7 259.1 418.3 260.1 425.0 260.8C430.0 261.3 435.0 261.3 440.0 262.0C445.0 262.7 450.0 269.9 455.0 274.3C460.0 278.7 465.0 285.3 470.0 288.6C476.7 293.2 483.3 296.6 490.0 298.9C495.0 300.7 500.0 300.8 505.0 303.0C508.3 304.5 511.7 308.3 515.0 312.2C520.0 318.2 525.0 329.1 530.0 339.2C534.3 348.0 538.7 360.3 543.0 369.2C544.3 372.0 545.7 375.5 547.0 376.9C548.3 378.4 549.7 380.0 551.0 380.0C552.7 380.0 554.3 378.1 556.0 376.6C559.0 373.8 562.0 366.8 565.0 361.9C568.3 356.5 571.7 349.0 575.0 345.6C579.0 341.6 583.0 337.0 587.0 337.0C591.3 337.0 595.7 341.6 600.0 345.2C605.0 349.4 610.0 356.7 615.0 364.0C623.3 376.1 631.7 388.9 640.0 408.5C648.3 428.1 656.7 470.5 665.0 495.1C671.0 512.8 677.0 542.0 683.0 542.0C688.7 542.0 694.3 539.9 700.0 539.0C705.0 538.2 710.0 537.0 715.0 537.0C720.0 537.0 725.0 538.3 730.0 539.0C734.0 539.6 738.0 539.5 742.0 541.0C743.8 541.7 745.7 558.2 747.5 567.2C749.2 575.3 750.9 584.2 752.6 592.4C754.2 600.6 755.9 608.7 757.6 616.6C759.3 624.4 760.9 632.2 762.6 639.7C764.3 647.2 766.0 654.6 767.7 661.8C769.3 668.9 771.0 675.9 772.7 682.7C774.4 689.5 776.0 696.1 777.7 702.5C779.4 708.8 781.1 715.0 782.8 721.0C784.4 727.0 786.1 732.7 787.8 738.3C789.5 743.8 791.1 749.1 792.8 754.1C794.5 759.2 796.2 764.0 797.8 768.6C799.5 773.1 801.2 777.5 802.9 781.4C804.6 785.4 806.2 789.2 807.9 792.6C809.6 795.9 811.3 799.1 812.9 801.7C814.6 804.3 816.3 807.0 818.0 808.6C819.6 810.1 821.3 812.0 823.0 812.0C827.0 812.0 831.0 810.4 835.0 809.2C840.0 807.7 845.0 805.3 850.0 803.0C860.0 798.2 870.0 791.0 880.0 785.5C890.0 780.1 900.0 775.0 910.0 770.2C920.0 765.5 930.0 760.8 940.0 757.0C950.0 753.3 960.0 750.2 970.0 747.3C976.0 745.5 982.0 742.4 988.0 742.4C989.7 742.4 991.3 747.3 993.0 747.3C994.7 747.3 996.3 741.0 998.0 741.0C1011.9 741.0 1025.7 746.5 1039.6 749.3C1067.3 754.8 1095.1 760.4 1122.8 765.9C1150.5 771.4 1178.3 777.0 1206.0 782.5C1233.7 788.0 1261.5 793.6 1289.2 799.1C1316.9 804.6 1344.7 810.2 1372.4 815.7C1386.3 818.5 1400.1 821.2 1414.0 824.0" stroke="url(#g24)"/><path d="M148.0 187.0C162.0 187.9 176.0 188.7 190.0 189.5C205.7 190.4 221.3 190.6 237.0 192.0C258.0 193.9 279.0 212.3 300.0 219.8C313.3 224.6 326.7 227.5 340.0 232.2C354.7 237.3 369.3 243.0 384.0 250.0C391.0 253.3 398.0 259.7 405.0 261.5C411.7 263.2 418.3 264.2 425.0 264.9C430.0 265.4 435.0 265.3 440.0 266.0C445.0 266.7 450.0 279.3 455.0 286.7C460.0 294.1 465.0 305.2 470.0 310.9C476.7 318.4 483.3 324.2 490.0 328.1C495.0 331.1 500.0 331.9 505.0 335.0C508.3 337.1 511.7 340.1 515.0 344.0C520.0 349.7 525.0 360.2 530.0 370.1C534.3 378.6 538.7 390.5 543.0 399.2C544.3 401.8 545.7 405.2 547.0 406.6C548.3 408.0 549.7 409.6 551.0 409.6C552.7 409.6 554.3 406.8 556.0 404.4C559.0 400.2 562.0 389.8 565.0 382.5C568.3 374.3 571.7 363.0 575.0 357.9C579.0 351.9 583.0 345.0 587.0 345.0C591.3 345.0 595.7 349.5 600.0 353.0C605.0 357.2 610.0 364.8 615.0 371.9C623.3 383.7 631.7 395.4 640.0 414.2C648.3 433.0 656.7 474.5 665.0 498.9C671.0 516.5 677.0 546.0 683.0 546.0C688.7 546.0 694.3 543.8 700.0 542.9C705.0 542.1 710.0 540.8 715.0 540.8C720.0 540.8 725.0 542.1 730.0 542.8C734.0 543.4 738.0 543.3 742.0 544.8C743.8 545.5 745.7 562.0 747.5 571.0C749.2 579.1 750.9 587.9 752.6 596.2C754.2 604.4 755.9 612.5 757.6 620.3C759.3 628.2 760.9 635.9 762.6 643.4C764.3 651.0 766.0 658.3 767.7 665.5C769.3 672.6 771.0 679.6 772.7 686.4C774.4 693.1 776.0 699.7 777.7 706.1C779.4 712.4 781.1 718.6 782.8 724.6C784.4 730.5 786.1 736.3 787.8 741.8C789.5 747.2 791.1 752.6 792.8 757.6C794.5 762.6 796.2 767.4 797.8 771.9C799.5 776.5 801.2 780.8 802.9 784.7C804.6 788.7 806.2 792.5 807.9 795.8C809.6 799.1 811.3 802.3 812.9 804.9C814.6 807.4 816.3 810.1 818.0 811.6C819.6 813.1 821.3 815.0 823.0 815.0C827.0 815.0 831.0 813.5 835.0 812.3C840.0 810.9 845.0 808.6 850.0 806.3C860.0 801.8 870.0 794.9 880.0 789.7C890.0 784.5 900.0 779.5 910.0 775.0C920.0 770.5 930.0 765.9 940.0 762.3C950.0 758.8 960.0 755.8 970.0 753.0C976.0 751.3 982.0 748.3 988.0 748.3C989.7 748.3 991.3 753.0 993.0 753.0C994.7 753.0 996.3 747.0 998.0 747.0C1011.9 747.0 1025.7 752.5 1039.6 755.3C1067.3 760.8 1095.1 766.4 1122.8 771.9C1150.5 777.4 1178.3 783.0 1206.0 788.5C1233.7 794.0 1261.5 799.6 1289.2 805.1C1316.9 810.6 1344.7 816.2 1372.4 821.7C1386.3 824.5 1400.1 827.2 1414.0 830.0" stroke="url(#g25)"/><path d="M148.0 193.5C162.0 194.3 176.0 195.0 190.0 195.8C205.7 196.5 221.3 196.7 237.0 198.0C258.0 199.7 279.0 217.6 300.0 226.0C313.3 231.3 326.7 234.3 340.0 240.8C354.7 247.9 369.3 261.8 384.0 272.0C391.0 276.9 398.0 284.2 405.0 286.4C411.7 288.5 418.3 289.8 425.0 290.6C430.0 291.2 435.0 291.1 440.0 292.0C445.0 292.9 450.0 301.2 455.0 306.4C460.0 311.6 465.0 319.2 470.0 323.2C476.7 328.5 483.3 332.5 490.0 335.2C495.0 337.3 500.0 337.5 505.0 340.0C508.3 341.7 511.7 345.4 515.0 349.5C520.0 355.7 525.0 366.8 530.0 377.3C534.3 386.3 538.7 399.0 543.0 408.2C544.3 411.0 545.7 414.6 547.0 416.1C548.3 417.6 549.7 419.3 551.0 419.3C552.7 419.3 554.3 417.7 556.0 416.4C559.0 414.0 562.0 408.1 565.0 403.9C568.3 399.3 571.7 392.8 575.0 389.9C579.0 386.5 583.0 382.6 587.0 382.6C591.3 382.6 595.7 386.4 600.0 389.5C605.0 393.0 610.0 399.8 615.0 405.9C623.3 416.0 631.7 425.1 640.0 440.8C648.3 456.5 656.7 491.9 665.0 513.0C671.0 528.1 677.0 554.0 683.0 554.0C688.7 554.0 694.3 551.6 700.0 550.7C705.0 549.9 710.0 548.5 715.0 548.5C720.0 548.5 725.0 549.8 730.0 550.5C734.0 551.1 738.0 551.0 742.0 552.5C743.8 553.2 745.7 569.7 747.5 578.7C749.2 586.8 750.9 595.6 752.6 603.8C754.2 612.0 755.9 620.0 757.6 627.8C759.3 635.7 760.9 643.3 762.6 650.8C764.3 658.2 766.0 665.5 767.7 672.6C769.3 679.7 771.0 686.6 772.7 693.2C774.4 699.9 776.0 706.4 777.7 712.7C779.4 718.9 781.1 725.0 782.8 730.8C784.4 736.7 786.1 742.3 787.8 747.7C789.5 753.0 791.1 758.2 792.8 763.1C794.5 768.0 796.2 772.7 797.8 777.0C799.5 781.4 801.2 785.6 802.9 789.4C804.6 793.2 806.2 796.8 807.9 800.0C809.6 803.1 811.3 806.2 812.9 808.6C814.6 811.0 816.3 813.5 818.0 814.9C819.6 816.3 821.3 818.0 823.0 818.0C827.0 818.0 831.0 816.6 835.0 815.6C840.0 814.3 845.0 812.3 850.0 810.2C860.0 806.1 870.0 799.9 880.0 795.3C890.0 790.6 900.0 786.2 910.0 782.1C920.0 778.1 930.0 774.0 940.0 770.8C950.0 767.5 960.0 764.9 970.0 762.4C976.0 760.9 982.0 758.2 988.0 758.2C989.7 758.2 991.3 762.4 993.0 762.4C994.7 762.4 996.3 757.0 998.0 757.0C1011.9 757.0 1025.7 761.8 1039.6 764.2C1067.3 769.0 1095.1 773.8 1122.8 778.6C1150.5 783.4 1178.3 788.2 1206.0 793.0C1233.7 797.8 1261.5 802.6 1289.2 807.4C1316.9 812.2 1344.7 817.0 1372.4 821.8C1386.3 824.2 1400.1 826.6 1414.0 829.0" stroke="url(#g26)"/><path d="M148.0 198.5C162.0 200.5 176.0 202.5 190.0 204.3C205.7 206.4 221.3 207.4 237.0 210.2C258.0 214.0 279.0 224.4 300.0 232.2C313.3 237.2 326.7 241.2 340.0 248.0C354.7 255.5 369.3 270.6 384.0 280.0C391.0 284.5 398.0 290.3 405.0 292.2C411.7 294.1 418.3 295.1 425.0 295.8C430.0 296.3 435.0 296.3 440.0 297.0C445.0 297.7 450.0 306.2 455.0 311.4C460.0 316.6 465.0 324.2 470.0 328.2C476.7 333.5 483.3 337.5 490.0 340.2C495.0 342.3 500.0 342.5 505.0 345.0C508.3 346.6 511.7 350.3 515.0 354.4C520.0 360.4 525.0 371.4 530.0 381.7C534.3 390.6 538.7 403.0 543.0 412.1C544.3 414.9 545.7 418.4 547.0 419.9C548.3 421.4 549.7 423.0 551.0 423.0C552.7 423.0 554.3 421.6 556.0 420.5C559.0 418.4 562.0 413.4 565.0 409.8C568.3 405.8 571.7 400.3 575.0 397.9C579.0 394.9 583.0 391.6 587.0 391.6C591.3 391.6 595.7 395.4 600.0 398.5C605.0 402.1 610.0 409.3 615.0 415.4C623.3 425.5 631.7 433.9 640.0 449.3C648.3 464.7 656.7 500.3 665.0 521.8C671.0 537.3 677.0 564.0 683.0 564.0C688.7 564.0 694.3 561.9 700.0 561.0C705.0 560.2 710.0 559.0 715.0 559.0C720.0 559.0 725.0 560.3 730.0 561.0C734.0 561.6 738.0 561.5 742.0 563.0C743.8 563.7 745.7 580.2 747.5 589.1C749.2 597.2 750.9 606.0 752.6 614.1C754.2 622.2 755.9 630.2 757.6 637.9C759.3 645.7 760.9 653.2 762.6 660.6C764.3 667.9 766.0 675.1 767.7 682.0C769.3 689.0 771.0 695.7 772.7 702.2C774.4 708.7 776.0 715.1 777.7 721.1C779.4 727.2 781.1 733.1 782.8 738.7C784.4 744.3 786.1 749.7 787.8 754.8C789.5 760.0 791.1 764.9 792.8 769.6C794.5 774.2 796.2 778.6 797.8 782.7C799.5 786.8 801.2 790.7 802.9 794.3C804.6 797.8 806.2 801.1 807.9 804.0C809.6 806.9 811.3 809.7 812.9 811.9C814.6 814.0 816.3 816.2 818.0 817.4C819.6 818.6 821.3 820.0 823.0 820.0C827.0 820.0 831.0 818.8 835.0 817.9C840.0 816.8 845.0 814.9 850.0 813.1C860.0 809.5 870.0 804.0 880.0 799.9C890.0 795.8 900.0 791.8 910.0 788.2C920.0 784.6 930.0 781.0 940.0 778.2C950.0 775.3 960.0 773.0 970.0 770.8C976.0 769.4 982.0 767.1 988.0 767.1C989.7 767.1 991.3 770.8 993.0 770.8C994.7 770.8 996.3 766.0 998.0 766.0C1011.9 766.0 1025.7 770.1 1039.6 772.2C1067.3 776.3 1095.1 780.5 1122.8 784.6C1150.5 788.7 1178.3 792.9 1206.0 797.0C1233.7 801.1 1261.5 805.3 1289.2 809.4C1316.9 813.5 1344.7 817.7 1372.4 821.8C1386.3 823.9 1400.1 825.9 1414.0 828.0" stroke="url(#g27)"/><path d="M148.0 229.8C162.0 233.0 176.0 236.1 190.0 239.1C205.7 242.3 221.3 245.1 237.0 248.3C258.0 252.6 279.0 257.3 300.0 262.0C313.3 265.0 326.7 267.5 340.0 271.0C354.7 274.9 369.3 279.2 384.0 285.0C391.0 287.7 398.0 293.5 405.0 295.1C411.7 296.6 418.3 297.4 425.0 298.0C430.0 298.5 435.0 298.4 440.0 299.0C445.0 299.6 450.0 308.0 455.0 313.1C460.0 318.2 465.0 325.7 470.0 329.6C476.7 334.7 483.3 338.6 490.0 341.3C495.0 343.3 500.0 343.6 505.0 346.0C508.3 347.6 511.7 351.3 515.0 355.4C520.0 361.4 525.0 372.4 530.0 382.7C534.3 391.6 538.7 404.0 543.0 413.1C544.3 415.9 545.7 419.4 547.0 420.9C548.3 422.4 549.7 424.0 551.0 424.0C552.7 424.0 554.3 422.8 556.0 421.8C559.0 419.9 562.0 415.4 565.0 412.2C568.3 408.7 571.7 403.8 575.0 401.6C579.0 399.0 583.0 396.0 587.0 396.0C591.3 396.0 595.7 399.7 600.0 402.8C605.0 406.3 610.0 413.7 615.0 419.7C623.3 429.6 631.7 437.0 640.0 451.8C648.3 466.5 656.7 501.4 665.0 522.8C671.0 538.1 677.0 565.0 683.0 565.0C688.7 565.0 694.3 562.9 700.0 562.0C705.0 561.2 710.0 560.0 715.0 560.0C720.0 560.0 725.0 561.3 730.0 562.0C734.0 562.6 738.0 562.5 742.0 564.0C743.8 564.7 745.7 581.2 747.5 590.1C749.2 598.2 750.9 606.9 752.6 615.0C754.2 623.1 755.9 631.0 757.6 638.7C759.3 646.4 760.9 653.9 762.6 661.2C764.3 668.4 766.0 675.5 767.7 682.4C769.3 689.2 771.0 695.9 772.7 702.3C774.4 708.7 776.0 714.9 777.7 720.9C779.4 726.8 781.1 732.6 782.8 738.1C784.4 743.5 786.1 748.8 787.8 753.8C789.5 758.8 791.1 763.6 792.8 768.1C794.5 772.6 796.2 776.9 797.8 780.8C799.5 784.8 801.2 788.5 802.9 791.9C804.6 795.3 806.2 798.5 807.9 801.2C809.6 803.9 811.3 806.5 812.9 808.5C814.6 810.6 816.3 812.6 818.0 813.7C819.6 814.8 821.3 816.0 823.0 816.0C827.0 816.0 831.0 814.5 835.0 813.3C840.0 811.9 845.0 809.6 850.0 807.3C860.0 802.8 870.0 795.9 880.0 790.7C890.0 785.5 900.0 780.5 910.0 776.0C920.0 771.5 930.0 766.9 940.0 763.3C950.0 759.8 960.0 756.8 970.0 754.0C976.0 752.3 982.0 749.3 988.0 749.3C989.7 749.3 991.3 754.0 993.0 754.0C994.7 754.0 996.3 748.0 998.0 748.0C1011.9 748.0 1025.7 753.5 1039.6 756.3C1067.3 761.8 1095.1 767.4 1122.8 772.9C1150.5 778.4 1178.3 784.0 1206.0 789.5C1233.7 795.0 1261.5 800.6 1289.2 806.1C1316.9 811.6 1344.7 817.2 1372.4 822.7C1386.3 825.5 1400.1 828.2 1414.0 831.0" stroke="url(#g28)"/><path d="M148.0 383.0C158.7 381.6 169.3 380.3 180.0 380.0C190.0 379.7 200.0 379.4 210.0 379.4C219.0 379.4 228.0 383.3 237.0 386.8C243.0 389.1 249.0 393.2 255.0 397.8C260.0 401.6 265.0 406.9 270.0 412.6C275.0 418.3 280.0 428.0 285.0 433.0C288.7 436.7 292.3 438.8 296.0 442.0C300.7 446.0 305.3 450.8 310.0 455.0C315.0 459.5 320.0 464.7 325.0 468.0C330.0 471.3 335.0 472.2 340.0 476.0C343.3 478.5 346.7 482.6 350.0 487.7C353.3 492.8 356.7 502.4 360.0 510.3C363.3 518.2 366.7 531.1 370.0 534.9C374.7 540.3 379.3 542.2 384.0 545.0C389.3 548.2 394.7 552.3 400.0 553.3C406.7 554.5 413.3 554.4 420.0 555.4C423.3 555.9 426.7 556.4 430.0 557.4C435.0 558.9 440.0 565.6 445.0 569.7C450.0 573.8 455.0 578.7 460.0 582.0C465.0 585.3 470.0 588.0 475.0 590.3C480.0 592.6 485.0 594.4 490.0 596.4C495.0 598.4 500.0 600.1 505.0 602.6C510.0 605.1 515.0 608.7 520.0 612.0C523.7 614.4 527.3 617.9 531.0 619.7C537.7 623.0 544.3 627.0 551.0 627.0C555.7 627.0 560.3 623.2 565.0 621.5C571.7 619.1 578.3 615.0 585.0 615.0C590.0 615.0 595.0 616.6 600.0 617.8C605.0 619.0 610.0 620.9 615.0 623.4C620.0 625.9 625.0 630.3 630.0 634.5C635.0 638.7 640.0 644.3 645.0 649.2C650.0 654.1 655.0 659.9 660.0 664.0C664.3 667.6 668.7 671.5 673.0 673.2C676.3 674.5 679.7 676.0 683.0 676.0C688.7 676.0 694.3 675.4 700.0 675.0C706.7 674.5 713.3 673.2 720.0 673.2C726.0 673.2 732.0 675.0 738.0 675.0C739.0 675.0 740.0 670.0 741.0 670.0C742.3 670.0 743.7 671.7 745.0 673.0C753.3 681.2 761.7 705.5 770.0 722.0C778.3 738.5 786.7 755.3 795.0 772.0C800.7 783.3 806.3 799.6 812.0 806.0C815.7 810.1 819.3 815.0 823.0 815.0C827.0 815.0 831.0 813.4 835.0 812.1C840.0 810.6 845.0 808.1 850.0 805.7C860.0 800.8 870.0 793.4 880.0 787.8C890.0 782.2 900.0 776.9 910.0 772.1C920.0 767.2 930.0 762.3 940.0 758.5C950.0 754.6 960.0 751.5 970.0 748.4C976.0 746.6 982.0 743.4 988.0 743.4C989.7 743.4 991.3 748.4 993.0 748.4C994.7 748.4 996.3 742.0 998.0 742.0C1011.9 742.0 1025.7 747.6 1039.6 750.4C1067.3 756.0 1095.1 761.6 1122.8 767.2C1150.5 772.8 1178.3 778.4 1206.0 784.0C1233.7 789.6 1261.5 795.2 1289.2 800.8C1316.9 806.4 1344.7 812.0 1372.4 817.6C1386.3 820.4 1400.1 823.2 1414.0 826.0" stroke="#7f7f7f"/></g>
<g stroke="#000" stroke-width="2.2"><line x1="237.0" y1="849.0" x2="237.0" y2="836.0"/><line x1="384.2" y1="849.0" x2="384.2" y2="836.0"/><line x1="531.4" y1="849.0" x2="531.4" y2="836.0"/><line x1="678.5" y1="849.0" x2="678.5" y2="836.0"/><line x1="825.7" y1="849.0" x2="825.7" y2="836.0"/><line x1="972.9" y1="849.0" x2="972.9" y2="836.0"/><line x1="1120.0" y1="849.0" x2="1120.0" y2="836.0"/><line x1="1267.2" y1="849.0" x2="1267.2" y2="836.0"/><line x1="146.0" y1="685.7" x2="160.0" y2="685.7"/><line x1="146.0" y1="522.2" x2="160.0" y2="522.2"/><line x1="146.0" y1="358.7" x2="160.0" y2="358.7"/><line x1="146.0" y1="195.2" x2="160.0" y2="195.2"/></g>
<rect x="146" y="30.5" width="1268" height="818.5" fill="none" stroke="#000" stroke-width="4"/>
<g font-family="'Liberation Serif', serif" font-weight="bold" font-size="41" fill="#000"><text transform="translate(237.0 891.5) scale(1 1.09)" text-anchor="middle">500</text><text transform="translate(384.2 891.5) scale(1 1.09)" text-anchor="middle">750</text><text transform="translate(528.4 891.5) scale(1 1.09)" text-anchor="middle">1000</text><text transform="translate(678.5 891.5) scale(1 1.09)" text-anchor="middle">1250</text><text transform="translate(825.7 891.5) scale(1 1.09)" text-anchor="middle">1500</text><text transform="translate(972.9 891.5) scale(1 1.09)" text-anchor="middle">1750</text><text transform="translate(1120.0 891.5) scale(1 1.09)" text-anchor="middle">2000</text><text transform="translate(1267.2 891.5) scale(1 1.09)" text-anchor="middle">2250</text><text transform="translate(1414.4 891.5) scale(1 1.09)" text-anchor="middle">2500</text><text transform="translate(130.5 863.3) scale(1 1.09)" text-anchor="end">0.0</text><text transform="translate(130.5 699.6) scale(1 1.09)" text-anchor="end">0.2</text><text transform="translate(130.5 535.9) scale(1 1.09)" text-anchor="end">0.4</text><text transform="translate(130.5 372.2) scale(1 1.09)" text-anchor="end">0.6</text><text transform="translate(130.5 208.5) scale(1 1.09)" text-anchor="end">0.8</text><text transform="translate(130.5 44.8) scale(1 1.09)" text-anchor="end">1.0</text></g>
<text x="781" y="948" text-anchor="middle" font-family="'Liberation Serif', serif" font-weight="bold" font-size="51">Wavelength(nm)</text>
<text transform="translate(56 442) rotate(-90)" text-anchor="middle" font-family="'Liberation Serif', serif" font-weight="bold" font-size="50.5">Reflectance</text>
</svg>
</body></html>
